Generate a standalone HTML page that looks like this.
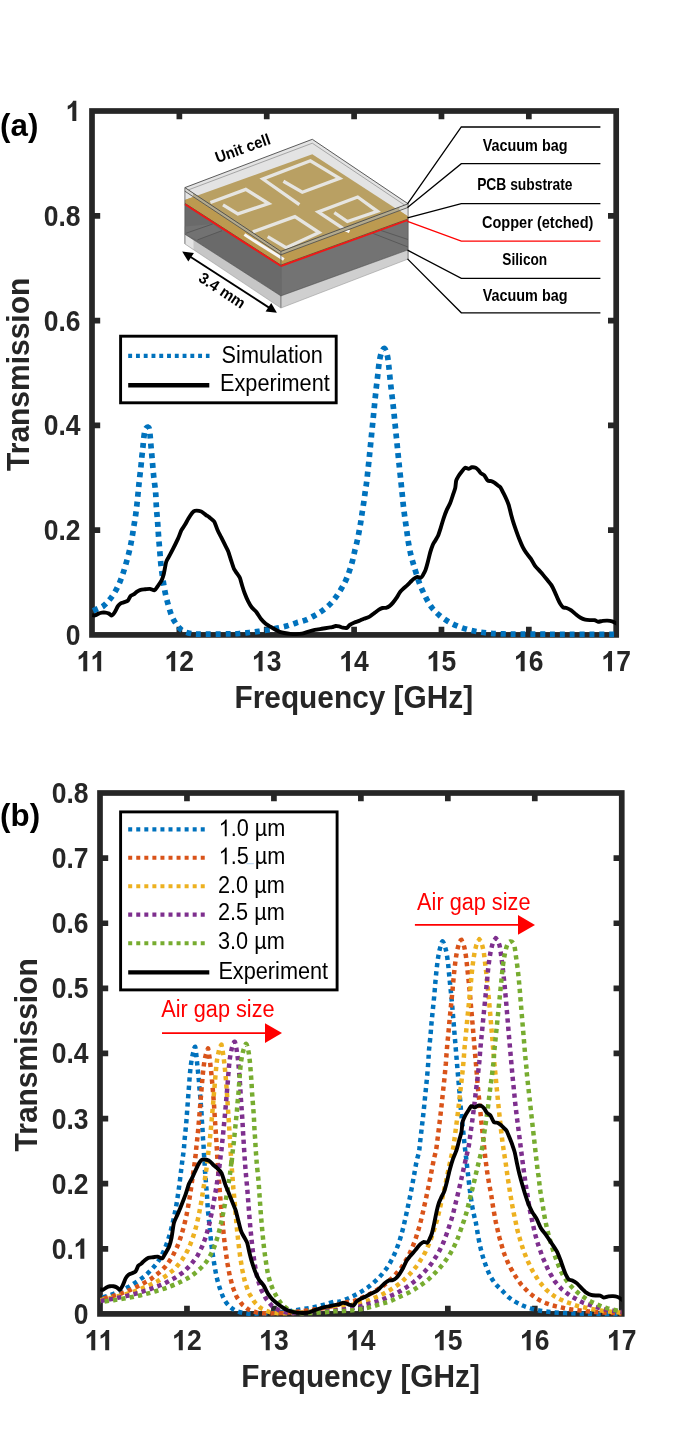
<!DOCTYPE html>
<html><head><meta charset="utf-8"><title>Transmission</title>
<style>html,body{margin:0;padding:0;background:#fff;}body{width:685px;height:1452px;position:relative;overflow:hidden;font-family:"Liberation Sans",sans-serif;}</style>
</head><body>
<svg width="685" height="1452" viewBox="0 0 685 1452" style="display:block;position:absolute;left:0;top:0;will-change:transform">
<rect width="685" height="1452" fill="#fff"/>
<defs>
<clipPath id="ca"><rect x="92.00" y="108.00" width="524.20" height="530.10"/></clipPath>
<clipPath id="cb"><rect x="100.00" y="790.00" width="521.75" height="527.10"/></clipPath>
</defs>
<g stroke="#262626" stroke-width="5.70" fill="none" stroke-linecap="butt">
<path d="M179.37,634.90 v-8.20 M179.37,111.00 v8.20"/>
<path d="M266.73,634.90 v-8.20 M266.73,111.00 v8.20"/>
<path d="M354.10,634.90 v-8.20 M354.10,111.00 v8.20"/>
<path d="M441.47,634.90 v-8.20 M441.47,111.00 v8.20"/>
<path d="M528.83,634.90 v-8.20 M528.83,111.00 v8.20"/>
<path d="M92.00,530.12 h8.20 M616.20,530.12 h-8.20"/>
<path d="M92.00,425.34 h8.20 M616.20,425.34 h-8.20"/>
<path d="M92.00,320.56 h8.20 M616.20,320.56 h-8.20"/>
<path d="M92.00,215.78 h8.20 M616.20,215.78 h-8.20"/>
<rect x="92.00" y="111.00" width="524.20" height="523.90"/>
</g>
<g clip-path="url(#ca)" fill="none" stroke-linejoin="round">
<path id="simA" d="M92.20,611.27 C93.06,610.88 95.51,609.79 97.34,608.93 C99.17,608.08 101.24,607.57 103.18,606.13 C105.13,604.69 107.08,602.63 109.02,600.29 C110.97,597.96 113.11,595.04 114.86,592.12 C116.61,589.20 118.17,585.89 119.53,582.77 C120.90,579.66 121.87,576.93 123.04,573.43 C124.20,569.93 125.45,565.64 126.54,561.75 C127.63,557.86 128.68,553.97 129.58,550.07 C130.47,546.18 131.21,542.29 131.91,538.39 C132.61,534.50 133.16,530.61 133.78,526.72 C134.40,522.82 135.10,518.93 135.65,515.04 C136.19,511.14 136.62,507.25 137.05,503.36 C137.48,499.46 137.83,495.57 138.22,491.68 C138.61,487.79 138.94,484.09 139.39,480.00 C139.83,475.91 140.47,470.95 140.88,467.15 C141.28,463.36 141.48,460.44 141.81,457.23 C142.14,454.01 142.53,451.09 142.86,447.88 C143.19,444.67 143.46,440.72 143.80,437.96 C144.13,435.19 144.42,432.95 144.85,431.30 C145.27,429.64 145.84,428.73 146.36,428.03 C146.89,427.33 147.49,426.94 148.00,427.09 C148.51,427.25 149.03,427.35 149.40,428.96 C149.77,430.58 149.95,433.83 150.22,436.79 C150.49,439.75 150.74,443.41 151.04,446.72 C151.33,450.02 151.68,453.33 151.97,456.64 C152.26,459.95 152.50,463.26 152.79,466.57 C153.08,469.88 153.35,473.09 153.72,476.50 C154.10,479.90 154.70,484.09 155.04,487.01 C155.37,489.93 155.50,490.51 155.74,494.01 C155.97,497.52 156.13,503.36 156.44,508.03 C156.75,512.70 157.26,517.37 157.61,522.04 C157.96,526.72 158.19,531.39 158.54,536.06 C158.89,540.73 159.32,545.40 159.71,550.07 C160.10,554.74 160.37,559.42 160.88,564.09 C161.38,568.76 162.04,573.43 162.74,578.10 C163.45,582.77 164.11,587.45 165.08,592.12 C166.05,596.79 167.42,602.04 168.58,606.13 C169.75,610.22 170.73,613.53 172.09,616.64 C173.45,619.76 175.01,622.48 176.76,624.82 C178.51,627.15 180.26,629.22 182.60,630.66 C184.93,632.10 187.85,632.88 190.77,633.46 C193.69,634.04 193.89,634.08 200.12,634.16 C206.35,634.24 221.50,634.04 228.15,633.93 C234.79,633.81 236.47,633.69 240.00,633.46 C243.53,633.23 246.23,632.88 249.34,632.53 C252.46,632.18 255.57,631.79 258.69,631.36 C261.80,630.93 264.91,630.50 268.03,629.96 C271.14,629.41 274.26,628.75 277.37,628.09 C280.49,627.43 283.60,626.84 286.72,625.99 C289.83,625.13 292.94,623.92 296.06,622.95 C299.17,621.98 302.29,621.39 305.40,620.15 C308.52,618.90 311.82,617.11 314.74,615.47 C317.66,613.84 320.19,612.40 322.92,610.34 C325.64,608.27 328.76,605.55 331.09,603.09 C333.43,600.64 335.10,598.23 336.93,595.62 C338.76,593.01 340.52,590.17 342.07,587.45 C343.63,584.72 344.99,582.19 346.28,579.27 C347.56,576.35 348.73,573.04 349.78,569.93 C350.83,566.81 351.73,563.89 352.58,560.58 C353.44,557.27 354.14,553.38 354.92,550.07 C355.70,546.76 356.55,543.84 357.26,540.73 C357.96,537.62 358.54,534.50 359.12,531.39 C359.71,528.27 360.25,525.16 360.76,522.04 C361.27,518.93 361.65,516.01 362.16,512.70 C362.67,509.39 363.29,505.69 363.80,502.19 C364.30,498.69 364.73,494.99 365.20,491.68 C365.66,488.37 365.96,487.59 366.60,482.34 C367.23,477.08 368.37,466.18 369.01,460.15 C369.64,454.11 369.94,450.80 370.41,446.13 C370.88,441.46 371.34,436.79 371.81,432.12 C372.28,427.45 372.74,422.77 373.21,418.10 C373.68,413.43 374.15,408.76 374.61,404.09 C375.08,399.42 375.51,394.74 376.01,390.07 C376.52,385.40 377.10,380.73 377.65,376.06 C378.19,371.39 378.66,365.94 379.28,362.04 C379.91,358.15 380.53,354.96 381.39,352.70 C382.24,350.44 383.45,348.11 384.42,348.50 C385.40,348.89 386.49,352.00 387.23,355.04 C387.97,358.07 388.36,362.43 388.86,366.72 C389.37,371.00 389.76,376.06 390.26,380.73 C390.77,385.40 391.35,390.07 391.90,394.74 C392.44,399.42 393.03,404.09 393.53,408.76 C394.04,413.43 394.47,418.10 394.93,422.77 C395.40,427.45 395.87,432.12 396.34,436.79 C396.80,441.46 397.27,446.13 397.74,450.80 C398.20,455.47 398.59,459.56 399.14,464.82 C399.69,470.07 400.51,477.47 401.02,482.34 C401.53,487.20 401.80,490.12 402.19,494.01 C402.58,497.91 402.89,501.61 403.36,505.69 C403.82,509.78 404.41,514.26 404.99,518.54 C405.58,522.82 406.28,527.30 406.86,531.39 C407.45,535.47 407.83,539.17 408.50,543.07 C409.16,546.96 410.01,551.24 410.83,554.74 C411.65,558.25 412.51,560.97 413.40,564.09 C414.30,567.20 415.15,570.12 416.20,573.43 C417.26,576.74 418.54,580.83 419.71,583.94 C420.88,587.06 421.85,589.20 423.21,592.12 C424.57,595.04 426.33,598.73 427.88,601.46 C429.44,604.18 430.61,606.13 432.55,608.47 C434.50,610.80 437.03,613.33 439.56,615.47 C442.09,617.62 444.82,619.56 447.74,621.31 C450.66,623.07 453.77,624.62 457.08,625.99 C460.39,627.35 464.09,628.52 467.59,629.49 C471.09,630.46 474.40,631.20 478.10,631.82 C481.80,632.45 485.50,632.88 489.78,633.23 C494.06,633.58 498.73,633.77 503.80,633.93 C508.86,634.08 514.11,634.12 520.15,634.16 C526.18,634.20 533.36,634.14 540.00,634.16 C546.64,634.18 550.00,634.26 560.00,634.30 C570.00,634.34 590.50,634.38 600.00,634.40 C609.50,634.42 614.17,634.40 617.00,634.40" stroke="#0072BD" stroke-width="5.7" stroke-dasharray="5.000 4.834" stroke-dashoffset="8.622"/>
<path d="M92.20,615.01 C92.53,615.06 94.27,615.64 95.01,615.47 C95.74,615.31 97.69,613.93 98.51,613.61 C99.33,613.28 101.20,612.78 102.01,612.67 C102.83,612.56 104.70,612.56 105.52,612.67 C106.34,612.78 108.29,613.28 109.02,613.61 C109.76,613.93 111.14,615.67 111.82,615.47 C112.51,615.28 114.15,613.06 114.86,611.97 C115.57,610.88 117.22,607.14 117.90,606.13 C118.58,605.12 119.96,603.79 120.70,603.33 C121.44,602.87 123.39,602.46 124.20,602.16 C125.02,601.86 126.97,601.47 127.71,600.76 C128.44,600.05 129.83,596.82 130.51,596.09 C131.19,595.35 132.78,594.97 133.55,594.45 C134.31,593.93 136.23,592.19 137.05,591.65 C137.87,591.10 139.60,590.05 140.55,589.78 C141.51,589.51 144.14,589.42 145.23,589.31 C146.32,589.20 148.81,588.74 149.90,588.85 C150.99,588.96 153.67,590.55 154.57,590.25 C155.47,589.95 156.79,587.42 157.61,586.28 C158.42,585.13 160.84,581.94 161.58,580.44 C162.31,578.94 163.37,575.61 163.91,573.43 C164.46,571.25 165.57,563.88 166.25,561.75 C166.93,559.63 168.93,556.76 169.75,555.21 C170.57,553.66 172.30,550.35 173.26,548.44 C174.21,546.53 176.97,540.99 177.93,538.86 C178.88,536.74 180.61,531.85 181.43,530.22 C182.25,528.58 184.12,526.21 184.93,524.85 C185.75,523.48 187.62,519.90 188.44,518.54 C189.26,517.18 191.21,514.07 191.94,513.17 C192.68,512.27 193.65,511.02 194.74,510.83 C195.83,510.64 199.98,511.04 201.28,511.53 C202.59,512.02 205.00,514.36 205.96,515.04 C206.91,515.72 208.51,516.61 209.46,517.37 C210.41,518.14 213.18,520.08 214.13,521.58 C215.09,523.08 216.82,528.39 217.64,530.22 C218.45,532.04 220.32,535.59 221.14,537.23 C221.96,538.86 223.82,542.60 224.64,544.23 C225.46,545.87 227.38,549.33 228.15,551.24 C228.91,553.15 230.50,558.54 231.18,560.58 C231.86,562.63 233.11,566.99 233.99,568.76 C234.86,570.53 237.96,574.68 238.66,575.77 C239.36,576.86 239.57,576.88 240.00,578.10 C240.43,579.33 241.79,584.51 242.34,586.28 C242.88,588.05 243.99,591.51 244.67,593.28 C245.35,595.06 247.36,599.82 248.18,601.46 C248.99,603.09 250.73,606.07 251.68,607.30 C252.63,608.53 255.26,610.61 256.35,611.97 C257.44,613.33 259.93,617.62 261.02,618.98 C262.11,620.34 264.60,622.75 265.69,623.65 C266.78,624.55 269.27,626.00 270.36,626.69 C271.45,627.37 273.95,628.89 275.04,629.49 C276.13,630.09 278.62,631.42 279.71,631.82 C280.80,632.23 283.15,632.75 284.38,632.99 C285.61,633.24 288.86,633.79 290.22,633.93 C291.58,634.06 294.70,634.19 296.06,634.16 C297.42,634.13 300.54,633.97 301.90,633.69 C303.26,633.42 306.24,632.26 307.74,631.82 C309.24,631.39 313.11,630.31 314.74,629.96 C316.38,629.60 320.12,629.06 321.75,628.79 C323.39,628.52 327.53,627.81 328.76,627.62 C329.99,627.43 331.45,627.34 332.26,627.15 C333.08,626.96 334.95,626.07 335.77,625.99 C336.58,625.90 338.45,626.26 339.27,626.45 C340.09,626.64 341.87,627.46 342.77,627.62 C343.67,627.78 346.16,628.18 346.98,627.85 C347.80,627.53 348.91,625.44 349.78,624.82 C350.65,624.19 353.36,622.95 354.45,622.48 C355.54,622.02 358.03,621.28 359.12,620.85 C360.21,620.41 362.57,619.24 363.80,618.74 C365.02,618.25 368.41,617.30 369.64,616.64 C370.86,615.99 373.22,613.96 374.31,613.14 C375.40,612.32 378.02,610.23 378.98,609.64 C379.93,609.04 381.66,608.22 382.48,608.00 C383.30,607.78 385.17,607.98 385.99,607.77 C386.80,607.55 388.67,606.73 389.49,606.13 C390.31,605.53 392.18,603.58 392.99,602.63 C393.81,601.67 395.68,599.18 396.50,597.96 C397.31,596.73 399.20,593.21 400.00,592.12 C400.80,591.03 402.56,589.38 403.36,588.61 C404.16,587.85 406.04,586.34 406.86,585.58 C407.68,584.81 409.55,582.86 410.36,582.07 C411.18,581.28 413.05,579.40 413.87,578.80 C414.69,578.20 416.55,577.07 417.37,576.93 C418.19,576.80 420.19,577.91 420.88,577.64 C421.56,577.36 422.67,575.50 423.21,574.60 C423.76,573.70 425.00,571.43 425.55,569.93 C426.09,568.43 427.34,563.80 427.88,561.75 C428.43,559.71 429.67,554.32 430.22,552.41 C430.76,550.50 432.01,546.71 432.55,545.40 C433.10,544.09 434.26,542.29 434.89,541.20 C435.52,540.11 437.25,537.61 437.93,536.06 C438.61,534.51 440.08,529.93 440.73,527.88 C441.38,525.84 442.85,520.58 443.53,518.54 C444.21,516.50 445.81,512.14 446.57,510.36 C447.33,508.59 449.34,505.13 450.07,503.36 C450.81,501.59 452.28,496.95 452.88,495.18 C453.48,493.41 454.82,489.88 455.21,488.18 C455.60,486.47 455.82,482.01 456.20,480.58 C456.59,479.15 457.86,477.00 458.54,475.91 C459.22,474.82 461.28,472.19 462.04,471.24 C462.81,470.29 464.32,468.01 465.08,467.74 C465.84,467.46 467.79,468.96 468.58,468.91 C469.37,468.85 471.04,467.41 471.85,467.27 C472.67,467.13 474.83,467.41 475.59,467.74 C476.35,468.06 477.79,469.45 478.39,470.07 C478.99,470.70 480.05,472.51 480.73,473.11 C481.41,473.71 483.42,474.34 484.23,475.21 C485.05,476.08 486.92,479.90 487.74,480.58 C488.55,481.27 490.42,480.78 491.24,481.05 C492.06,481.32 493.93,482.37 494.74,482.92 C495.56,483.46 497.57,485.18 498.25,485.72 C498.93,486.27 499.96,486.69 500.58,487.59 C501.21,488.49 502.94,492.07 503.62,493.43 C504.30,494.79 505.82,497.91 506.42,499.27 C507.02,500.63 508.21,503.34 508.76,505.11 C509.30,506.88 510.55,512.41 511.09,514.45 C511.64,516.50 512.83,520.72 513.43,522.63 C514.03,524.54 515.55,528.90 516.23,530.80 C516.91,532.71 518.51,537.07 519.27,538.98 C520.03,540.89 521.96,545.52 522.77,547.15 C523.59,548.79 525.32,551.63 526.28,552.99 C527.23,554.36 529.93,557.32 530.95,558.83 C531.97,560.34 533.88,564.39 535.04,565.96 C536.19,567.52 539.51,570.71 540.88,572.26 C542.24,573.82 545.49,577.77 546.72,579.27 C547.94,580.77 550.43,583.61 551.39,585.11 C552.34,586.61 554.13,590.48 554.89,592.12 C555.65,593.75 557.30,597.76 557.93,599.12 C558.55,600.49 559.66,602.84 560.26,603.80 C560.86,604.75 562.33,606.81 563.07,607.30 C563.80,607.79 565.62,607.65 566.57,608.00 C567.52,608.35 570.15,609.60 571.24,610.34 C572.33,611.07 574.82,613.43 575.91,614.31 C577.00,615.18 579.49,617.18 580.58,617.81 C581.67,618.44 584.17,619.41 585.26,619.68 C586.35,619.95 588.84,620.09 589.93,620.15 C591.02,620.20 593.64,619.96 594.60,620.15 C595.55,620.34 597.15,621.70 598.10,621.78 C599.06,621.86 601.68,620.98 602.77,620.85 C603.86,620.71 606.36,620.56 607.45,620.61 C608.54,620.67 611.16,621.04 612.12,621.31 C613.07,621.59 614.94,622.59 615.62,622.95 C616.30,623.30 617.68,624.19 617.96,624.35" stroke="#000" stroke-width="3.9" stroke-linecap="butt"/>
</g>
<g font-family="Liberation Sans, sans-serif" font-weight="bold" font-size="26.5" fill="#262626">
<g transform="translate(0,671.30) scale(1,1.085) translate(0,-671.30)"><path transform="translate(76.70,671.30) scale(26.500,-26.500)" d="M0.398,0 L0.248,0 L0.248,0.505 C0.200,0.460 0.142,0.426 0.074,0.403 L0.074,0.527 C0.110,0.538 0.149,0.560 0.191,0.592 C0.233,0.624 0.262,0.660 0.278,0.703 L0.398,0.703 Z" fill="#262626" stroke="none"/><path transform="translate(90.64,671.30) scale(26.500,-26.500)" d="M0.398,0 L0.248,0 L0.248,0.505 C0.200,0.460 0.142,0.426 0.074,0.403 L0.074,0.527 C0.110,0.538 0.149,0.560 0.191,0.592 C0.233,0.624 0.262,0.660 0.278,0.703 L0.398,0.703 Z" fill="#262626" stroke="none"/></g>
<g transform="translate(0,671.30) scale(1,1.085) translate(0,-671.30)"><path transform="translate(164.63,671.30) scale(26.500,-26.500)" d="M0.398,0 L0.248,0 L0.248,0.505 C0.200,0.460 0.142,0.426 0.074,0.403 L0.074,0.527 C0.110,0.538 0.149,0.560 0.191,0.592 C0.233,0.624 0.262,0.660 0.278,0.703 L0.398,0.703 Z" fill="#262626" stroke="none"/><text x="179.37" y="671.30">2</text></g>
<g transform="translate(0,671.30) scale(1,1.085) translate(0,-671.30)"><path transform="translate(252.00,671.30) scale(26.500,-26.500)" d="M0.398,0 L0.248,0 L0.248,0.505 C0.200,0.460 0.142,0.426 0.074,0.403 L0.074,0.527 C0.110,0.538 0.149,0.560 0.191,0.592 C0.233,0.624 0.262,0.660 0.278,0.703 L0.398,0.703 Z" fill="#262626" stroke="none"/><text x="266.73" y="671.30">3</text></g>
<g transform="translate(0,671.30) scale(1,1.085) translate(0,-671.30)"><path transform="translate(339.37,671.30) scale(26.500,-26.500)" d="M0.398,0 L0.248,0 L0.248,0.505 C0.200,0.460 0.142,0.426 0.074,0.403 L0.074,0.527 C0.110,0.538 0.149,0.560 0.191,0.592 C0.233,0.624 0.262,0.660 0.278,0.703 L0.398,0.703 Z" fill="#262626" stroke="none"/><text x="354.10" y="671.30">4</text></g>
<g transform="translate(0,671.30) scale(1,1.085) translate(0,-671.30)"><path transform="translate(426.73,671.30) scale(26.500,-26.500)" d="M0.398,0 L0.248,0 L0.248,0.505 C0.200,0.460 0.142,0.426 0.074,0.403 L0.074,0.527 C0.110,0.538 0.149,0.560 0.191,0.592 C0.233,0.624 0.262,0.660 0.278,0.703 L0.398,0.703 Z" fill="#262626" stroke="none"/><text x="441.47" y="671.30">5</text></g>
<g transform="translate(0,671.30) scale(1,1.085) translate(0,-671.30)"><path transform="translate(514.10,671.30) scale(26.500,-26.500)" d="M0.398,0 L0.248,0 L0.248,0.505 C0.200,0.460 0.142,0.426 0.074,0.403 L0.074,0.527 C0.110,0.538 0.149,0.560 0.191,0.592 C0.233,0.624 0.262,0.660 0.278,0.703 L0.398,0.703 Z" fill="#262626" stroke="none"/><text x="528.83" y="671.30">6</text></g>
<g transform="translate(0,671.30) scale(1,1.085) translate(0,-671.30)"><path transform="translate(601.47,671.30) scale(26.500,-26.500)" d="M0.398,0 L0.248,0 L0.248,0.505 C0.200,0.460 0.142,0.426 0.074,0.403 L0.074,0.527 C0.110,0.538 0.149,0.560 0.191,0.592 C0.233,0.624 0.262,0.660 0.278,0.703 L0.398,0.703 Z" fill="#262626" stroke="none"/><text x="616.20" y="671.30">7</text></g>
<g transform="translate(0,644.90) scale(1,1.085) translate(0,-644.90)"><text x="65.77" y="644.90">0</text></g>
<g transform="translate(0,540.12) scale(1,1.085) translate(0,-540.12)"><text x="43.66" y="540.12">0</text><text x="58.40" y="540.12">.</text><text x="65.77" y="540.12">2</text></g>
<g transform="translate(0,435.34) scale(1,1.085) translate(0,-435.34)"><text x="43.66" y="435.34">0</text><text x="58.40" y="435.34">.</text><text x="65.77" y="435.34">4</text></g>
<g transform="translate(0,330.56) scale(1,1.085) translate(0,-330.56)"><text x="43.66" y="330.56">0</text><text x="58.40" y="330.56">.</text><text x="65.77" y="330.56">6</text></g>
<g transform="translate(0,225.78) scale(1,1.085) translate(0,-225.78)"><text x="43.66" y="225.78">0</text><text x="58.40" y="225.78">.</text><text x="65.77" y="225.78">8</text></g>
<g transform="translate(0,121.00) scale(1,1.085) translate(0,-121.00)"><path transform="translate(65.77,121.00) scale(26.500,-26.500)" d="M0.398,0 L0.248,0 L0.248,0.505 C0.200,0.460 0.142,0.426 0.074,0.403 L0.074,0.527 C0.110,0.538 0.149,0.560 0.191,0.592 C0.233,0.624 0.262,0.660 0.278,0.703 L0.398,0.703 Z" fill="#262626" stroke="none"/></g>
</g>
<g font-family="Liberation Sans, sans-serif" font-weight="bold" font-size="29.85" fill="#262626">
<text transform="translate(353.80,707.70) scale(1,1.075)" text-anchor="middle">Frequency [GHz]</text>
<text transform="translate(28.60,374.35) rotate(-90) scale(1.004,1.05)" text-anchor="middle">Transmission</text>
</g>
<text x="0.1" y="135.6" font-family="Liberation Sans, sans-serif" font-weight="bold" font-size="31.3" fill="#000">(a)</text>
<rect x="120.6" y="336.2" width="215.6" height="66.6" fill="#fff" stroke="#000" stroke-width="2.9"/>
<path d="M128.2,355.8 H209.5" stroke="#0072BD" stroke-width="4.2" stroke-dasharray="3.9 3.87" fill="none"/>
<path d="M128.2,385.3 H209.3" stroke="#000" stroke-width="4.4" fill="none"/>
<g font-family="Liberation Sans, sans-serif" font-size="21.7" fill="#000">
<text transform="translate(221.6,362.5) scale(1,1.07)">Simulation</text>
<text transform="translate(220.0,391.4) scale(1,1.07)">Experiment</text>
</g>
<g stroke="#262626" stroke-width="5.70" fill="none" stroke-linecap="butt">
<path d="M186.96,1313.90 v-8.20 M186.96,793.00 v8.20"/>
<path d="M273.92,1313.90 v-8.20 M273.92,793.00 v8.20"/>
<path d="M360.88,1313.90 v-8.20 M360.88,793.00 v8.20"/>
<path d="M447.83,1313.90 v-8.20 M447.83,793.00 v8.20"/>
<path d="M534.79,1313.90 v-8.20 M534.79,793.00 v8.20"/>
<path d="M100.00,1248.79 h8.20 M621.75,1248.79 h-8.20"/>
<path d="M100.00,1183.68 h8.20 M621.75,1183.68 h-8.20"/>
<path d="M100.00,1118.56 h8.20 M621.75,1118.56 h-8.20"/>
<path d="M100.00,1053.45 h8.20 M621.75,1053.45 h-8.20"/>
<path d="M100.00,988.34 h8.20 M621.75,988.34 h-8.20"/>
<path d="M100.00,923.23 h8.20 M621.75,923.23 h-8.20"/>
<path d="M100.00,858.11 h8.20 M621.75,858.11 h-8.20"/>
<rect x="100.00" y="793.00" width="521.75" height="520.90"/>
</g>
<g clip-path="url(#cb)" fill="none" stroke-linejoin="round">
<path id="simB0" d="M100.14,1298.28 C101.62,1297.81 105.98,1296.53 109.01,1295.47 C112.05,1294.42 115.24,1293.33 118.36,1291.97 C121.47,1290.61 124.59,1289.05 127.70,1287.30 C130.82,1285.55 134.12,1283.41 137.04,1281.46 C139.96,1279.51 142.69,1277.76 145.22,1275.62 C147.75,1273.48 150.09,1270.95 152.23,1268.61 C154.37,1266.28 156.24,1264.33 158.07,1261.61 C159.90,1258.88 161.65,1255.57 163.20,1252.26 C164.76,1248.95 166.12,1245.45 167.41,1241.75 C168.69,1238.05 169.86,1233.97 170.91,1230.07 C171.96,1226.18 172.86,1222.29 173.72,1218.39 C174.57,1214.50 175.35,1210.61 176.05,1206.72 C176.75,1202.82 177.34,1198.93 177.92,1195.04 C178.50,1191.14 179.05,1187.25 179.55,1183.36 C180.06,1179.46 180.53,1175.18 180.96,1171.68 C181.38,1168.18 181.80,1164.83 182.12,1162.34 C182.45,1159.84 182.59,1159.01 182.89,1156.72 C183.19,1154.42 183.64,1151.27 183.91,1148.54 C184.18,1145.82 184.29,1143.09 184.53,1140.36 C184.76,1137.64 185.07,1134.91 185.34,1132.19 C185.62,1129.46 185.92,1126.74 186.16,1124.01 C186.40,1121.29 186.57,1118.56 186.77,1115.84 C186.98,1113.11 187.18,1110.39 187.39,1107.66 C187.59,1104.94 187.80,1102.21 188.00,1099.49 C188.20,1096.76 188.41,1094.04 188.61,1091.31 C188.82,1088.59 189.02,1085.86 189.23,1083.14 C189.43,1080.41 189.60,1077.69 189.84,1074.96 C190.08,1072.24 190.32,1069.51 190.66,1066.79 C191.00,1064.06 191.41,1061.17 191.88,1058.61 C192.36,1056.06 192.97,1053.44 193.52,1051.46 C194.06,1049.48 194.68,1046.08 195.15,1046.76 C195.63,1047.44 196.04,1052.72 196.38,1055.55 C196.72,1058.37 196.92,1061.00 197.20,1063.72 C197.47,1066.45 197.74,1069.17 198.01,1071.90 C198.29,1074.62 198.59,1077.35 198.83,1080.07 C199.07,1082.80 199.21,1085.52 199.45,1088.25 C199.68,1090.97 200.02,1093.70 200.26,1096.42 C200.50,1099.15 200.67,1101.87 200.88,1104.60 C201.08,1107.32 201.32,1110.05 201.49,1112.77 C201.66,1115.50 201.73,1118.22 201.90,1120.95 C202.07,1123.67 202.34,1126.40 202.51,1129.12 C202.68,1131.85 202.75,1134.57 202.92,1137.30 C203.09,1140.02 203.36,1142.75 203.53,1145.47 C203.70,1148.20 203.77,1150.92 203.94,1153.65 C204.11,1156.37 204.41,1159.40 204.55,1161.82 C204.69,1164.25 204.67,1166.14 204.78,1168.18 C204.90,1170.21 205.01,1171.09 205.25,1174.01 C205.48,1176.93 205.87,1181.80 206.18,1185.69 C206.49,1189.59 206.84,1193.48 207.12,1197.37 C207.39,1201.27 207.51,1205.16 207.82,1209.05 C208.13,1212.94 208.60,1216.84 208.99,1220.73 C209.37,1224.62 209.76,1228.52 210.15,1232.41 C210.54,1236.30 210.85,1240.19 211.32,1244.09 C211.79,1247.98 212.37,1251.87 212.96,1255.77 C213.54,1259.66 214.12,1263.55 214.82,1267.45 C215.53,1271.34 216.19,1275.23 217.16,1279.12 C218.13,1283.02 219.42,1287.30 220.66,1290.80 C221.91,1294.31 223.00,1297.42 224.64,1300.15 C226.27,1302.87 228.33,1305.28 230.47,1307.15 C232.62,1309.02 234.76,1310.31 237.48,1311.36 C240.21,1312.41 243.79,1313.07 246.82,1313.46 C249.86,1313.85 251.49,1313.77 255.69,1313.69 C259.90,1313.62 266.59,1313.38 272.04,1312.99 C277.49,1312.60 283.72,1311.94 288.39,1311.36 C293.07,1310.77 296.18,1310.11 300.07,1309.49 C303.97,1308.87 307.86,1308.40 311.75,1307.62 C315.64,1306.84 319.54,1305.83 323.43,1304.82 C327.32,1303.81 332.35,1302.09 335.11,1301.55 C337.87,1301.00 337.63,1302.17 340.00,1301.55 C342.37,1300.92 346.23,1299.21 349.34,1297.81 C352.46,1296.41 355.57,1294.89 358.69,1293.14 C361.80,1291.39 364.91,1289.64 368.03,1287.30 C371.14,1284.96 374.45,1282.04 377.37,1279.12 C380.29,1276.20 383.02,1273.28 385.55,1269.78 C388.08,1266.28 390.41,1262.38 392.55,1258.10 C394.70,1253.82 396.72,1248.76 398.39,1244.09 C400.07,1239.42 401.35,1234.74 402.60,1230.07 C403.84,1225.40 404.82,1220.73 405.87,1216.06 C406.92,1211.39 407.93,1206.72 408.91,1202.04 C409.88,1197.37 410.81,1192.70 411.71,1188.03 C412.60,1183.36 413.46,1178.49 414.28,1174.01 C415.09,1169.54 415.83,1164.79 416.61,1161.17 C417.39,1157.54 418.40,1155.11 418.95,1152.26 C419.49,1149.42 419.42,1148.18 419.88,1144.09 C420.35,1140.00 421.13,1133.19 421.75,1127.74 C422.37,1122.29 423.04,1116.84 423.62,1111.39 C424.20,1105.94 424.71,1100.49 425.26,1095.04 C425.80,1089.59 426.38,1084.14 426.89,1078.69 C427.40,1073.24 427.95,1066.98 428.29,1062.34 C428.64,1057.69 428.62,1055.06 428.96,1050.80 C429.31,1046.55 429.94,1041.46 430.36,1036.79 C430.79,1032.12 431.10,1027.45 431.53,1022.77 C431.96,1018.10 432.47,1013.43 432.93,1008.76 C433.40,1004.09 433.91,999.42 434.34,994.74 C434.76,990.07 435.08,985.40 435.50,980.73 C435.93,976.06 436.40,971.00 436.91,966.72 C437.41,962.43 437.96,958.35 438.54,955.04 C439.12,951.73 439.71,949.12 440.41,946.86 C441.11,944.60 441.81,940.91 442.74,941.49 C443.68,942.07 445.16,946.94 446.01,950.36 C446.87,953.79 447.38,958.15 447.88,962.04 C448.39,965.94 448.62,969.44 449.05,973.72 C449.48,978.00 449.99,983.07 450.45,987.74 C450.92,992.41 451.43,997.08 451.85,1001.75 C452.28,1006.42 452.63,1011.09 453.02,1015.77 C453.41,1020.44 453.80,1025.11 454.19,1029.78 C454.58,1034.45 454.97,1039.12 455.36,1043.80 C455.75,1048.47 456.14,1053.14 456.53,1057.81 C456.91,1062.48 457.26,1066.79 457.69,1071.82 C458.13,1076.86 458.69,1082.99 459.12,1088.03 C459.56,1093.07 459.90,1097.37 460.29,1102.04 C460.68,1106.72 460.99,1111.39 461.46,1116.06 C461.93,1120.73 462.59,1125.40 463.09,1130.07 C463.60,1134.74 463.99,1139.42 464.50,1144.09 C465.00,1148.76 465.59,1153.43 466.13,1158.10 C466.68,1162.77 467.18,1167.06 467.77,1172.12 C468.35,1177.18 468.93,1183.02 469.64,1188.47 C470.34,1193.92 471.19,1200.15 471.97,1204.82 C472.75,1209.49 473.64,1213.45 474.31,1216.50 C474.97,1219.54 475.28,1219.64 475.94,1223.07 C476.60,1226.50 477.38,1232.41 478.28,1237.08 C479.17,1241.75 480.22,1246.81 481.31,1251.09 C482.40,1255.38 483.45,1258.88 484.82,1262.77 C486.18,1266.67 487.74,1270.95 489.49,1274.45 C491.24,1277.96 493.38,1281.27 495.33,1283.80 C497.28,1286.33 498.86,1287.30 501.20,1289.64 C503.55,1291.97 506.46,1295.47 509.38,1297.81 C512.30,1300.15 515.22,1301.90 518.72,1303.65 C522.23,1305.40 526.12,1307.04 530.40,1308.32 C534.68,1309.61 538.97,1310.58 544.42,1311.36 C549.87,1312.14 556.09,1312.60 563.10,1312.99 C570.11,1313.38 576.73,1313.50 586.46,1313.69 C596.19,1313.89 615.66,1314.08 621.50,1314.16" stroke="#0072BD" stroke-width="4.5" stroke-dasharray="4.300 4.065" stroke-dashoffset="5.533"/>
<path id="simB1" d="M100.00,1299.36 L100.75,1299.21 L101.49,1299.02 L102.24,1298.83 L102.98,1298.64 L103.73,1298.45 L104.47,1298.26 L105.22,1298.08 L105.96,1297.89 L106.71,1297.70 L107.45,1297.51 L108.20,1297.32 L108.94,1297.14 L109.69,1296.95 L110.43,1296.75 L111.18,1296.52 L111.93,1296.30 L112.67,1296.08 L113.42,1295.85 L114.16,1295.63 L114.91,1295.40 L115.65,1295.18 L116.40,1294.96 L117.14,1294.73 L117.89,1294.51 L118.63,1294.28 L119.38,1294.06 L120.12,1293.83 L120.87,1293.60 L121.62,1293.31 L122.36,1293.02 L123.11,1292.72 L123.85,1292.43 L124.60,1292.14 L125.34,1291.85 L126.09,1291.55 L126.83,1291.26 L127.58,1290.97 L128.32,1290.67 L129.07,1290.38 L129.81,1290.09 L130.56,1289.79 L131.30,1289.49 L132.05,1289.13 L132.80,1288.76 L133.54,1288.39 L134.29,1288.02 L135.03,1287.65 L135.78,1287.28 L136.52,1286.91 L137.27,1286.54 L138.01,1286.16 L138.76,1285.79 L139.50,1285.42 L140.25,1285.05 L140.99,1284.68 L141.74,1284.30 L142.49,1283.89 L143.23,1283.46 L143.98,1283.02 L144.72,1282.59 L145.47,1282.16 L146.21,1281.73 L146.96,1281.30 L147.70,1280.87 L148.45,1280.44 L149.19,1280.01 L149.94,1279.58 L150.68,1279.14 L151.43,1278.70 L152.17,1278.11 L152.92,1277.51 L153.67,1276.92 L154.41,1276.32 L155.16,1275.72 L155.90,1275.13 L156.65,1274.53 L157.39,1273.93 L158.14,1273.34 L158.88,1272.74 L159.63,1272.10 L160.37,1271.40 L161.12,1270.68 L161.86,1269.96 L162.61,1269.24 L163.36,1268.52 L164.10,1267.79 L164.85,1267.07 L165.59,1266.35 L166.34,1265.48 L167.08,1264.46 L167.83,1263.37 L168.57,1262.29 L169.32,1261.20 L170.06,1260.12 L170.81,1259.03 L171.55,1257.95 L172.30,1256.64 L173.04,1255.23 L173.79,1253.75 L174.54,1252.27 L175.28,1250.78 L176.03,1249.30 L176.77,1247.71 L177.52,1245.82 L178.26,1243.94 L179.01,1241.91 L179.75,1239.87 L180.50,1237.84 L181.24,1235.43 L181.99,1232.99 L182.73,1230.44 L183.48,1227.82 L184.23,1224.93 L184.97,1221.91 L185.72,1218.72 L186.46,1215.38 L187.21,1211.50 L187.95,1207.58 L188.70,1203.38 L189.44,1198.86 L190.19,1194.24 L190.93,1189.06 L191.68,1183.75 L192.42,1178.53 L193.17,1173.38 L193.92,1168.24 L194.66,1162.87 L195.41,1157.10 L196.15,1149.29 L196.90,1142.22 L197.64,1135.56 L198.39,1127.26 L199.13,1118.47 L199.88,1109.46 L200.62,1100.44 L201.37,1091.16 L202.11,1082.01 L202.86,1073.85 L203.60,1066.99 L204.35,1061.46 L205.10,1057.83 L205.84,1054.65 L206.59,1052.05 L207.33,1050.15 L208.08,1048.24 L208.82,1052.73 L209.57,1057.93 L210.31,1064.12 L211.06,1070.91 L211.80,1078.13 L212.55,1086.69 L213.29,1095.19 L214.04,1105.24 L214.79,1117.56 L215.53,1128.75 L216.28,1139.32 L217.02,1152.09 L217.77,1164.56 L218.51,1174.61 L219.26,1183.97 L220.00,1193.90 L220.75,1203.43 L221.49,1210.81 L222.24,1218.88 L222.98,1226.94 L223.73,1235.01 L224.47,1241.49 L225.22,1247.54 L225.97,1253.08 L226.71,1258.34 L227.46,1263.36 L228.20,1267.48 L228.95,1271.60 L229.69,1275.43 L230.44,1278.35 L231.18,1281.27 L231.93,1284.19 L232.67,1286.67 L233.42,1288.78 L234.16,1290.69 L234.91,1292.59 L235.66,1294.50 L236.40,1296.22 L237.15,1297.62 L237.89,1298.66 L238.64,1299.69 L239.38,1300.72 L240.13,1301.75 L240.87,1302.78 L241.62,1303.78 L242.36,1304.70 L243.11,1305.35 L243.85,1305.93 L244.60,1306.52 L245.34,1307.10 L246.09,1307.68 L246.84,1308.26 L247.58,1308.84 L248.33,1309.34 L249.07,1309.80 L249.82,1310.13 L250.56,1310.38 L251.31,1310.63 L252.05,1310.88 L252.80,1311.13 L253.54,1311.38 L254.29,1311.63 L255.03,1311.88 L255.78,1312.14 L256.53,1312.39 L257.27,1312.58 L258.02,1312.75 L258.76,1312.87 L259.51,1312.93 L260.25,1312.99 L261.00,1313.05 L261.74,1313.11 L262.49,1313.16 L263.23,1313.22 L263.98,1313.28 L264.72,1313.34 L265.47,1313.40 L266.21,1313.46 L266.96,1313.51 L267.71,1313.50 L268.45,1313.47 L269.20,1313.45 L269.94,1313.42 L270.69,1313.40 L271.43,1313.38 L272.18,1313.35 L272.92,1313.33 L273.67,1313.30 L274.41,1313.28 L275.16,1313.26 L275.90,1313.23 L276.65,1313.20 L277.39,1313.17 L278.14,1313.15 L278.89,1313.13 L279.63,1313.10 L280.38,1313.06 L281.12,1313.03 L281.87,1312.99 L282.61,1312.96 L283.36,1312.92 L284.10,1312.86 L284.85,1312.79 L285.59,1312.73 L286.34,1312.66 L287.08,1312.60 L287.83,1312.53 L288.58,1312.46 L289.32,1312.40 L290.07,1312.33 L290.81,1312.26 L291.56,1312.19 L292.30,1312.12 L293.05,1312.05 L293.79,1311.98 L294.54,1311.91 L295.28,1311.84 L296.03,1311.77 L296.77,1311.70 L297.52,1311.63 L298.26,1311.56 L299.01,1311.49 L299.76,1311.42 L300.50,1311.35 L301.25,1311.25 L301.99,1311.15 L302.74,1311.05 L303.48,1310.95 L304.23,1310.85 L304.97,1310.76 L305.72,1310.66 L306.46,1310.56 L307.21,1310.46 L307.95,1310.36 L308.70,1310.26 L309.45,1310.17 L310.19,1310.07 L310.94,1309.97 L311.68,1309.87 L312.43,1309.76 L313.17,1309.65 L313.92,1309.55 L314.66,1309.44 L315.41,1309.33 L316.15,1309.23 L316.90,1309.12 L317.64,1309.01 L318.39,1308.91 L319.13,1308.80 L319.88,1308.69 L320.63,1308.59 L321.37,1308.48 L322.12,1308.37 L322.86,1308.24 L323.61,1308.12 L324.35,1307.99 L325.10,1307.85 L325.84,1307.68 L326.59,1307.51 L327.33,1307.33 L328.08,1307.16 L328.82,1306.99 L329.57,1306.82 L330.32,1306.65 L331.06,1306.48 L331.81,1306.31 L332.55,1306.14 L333.30,1305.96 L334.04,1305.76 L334.79,1305.57 L335.53,1305.38 L336.28,1305.19 L337.02,1305.00 L337.77,1304.78 L338.51,1304.57 L339.26,1304.36 L340.00,1304.15 L340.75,1303.93 L341.50,1303.72 L342.24,1303.51 L342.99,1303.29 L343.73,1303.08 L344.48,1302.87 L345.22,1302.66 L345.97,1302.45 L346.71,1302.24 L347.46,1302.03 L348.20,1301.82 L348.95,1301.61 L349.69,1301.51 L350.44,1301.45 L351.19,1301.38 L351.93,1301.28 L352.68,1301.18 L353.42,1301.08 L354.17,1300.98 L354.91,1300.69 L355.66,1300.38 L356.40,1300.06 L357.15,1299.75 L357.89,1299.44 L358.64,1299.12 L359.38,1298.81 L360.13,1298.50 L360.88,1298.19 L361.62,1297.88 L362.37,1297.57 L363.11,1297.26 L363.86,1296.95 L364.60,1296.59 L365.35,1296.23 L366.09,1295.86 L366.84,1295.50 L367.58,1295.14 L368.33,1294.77 L369.07,1294.41 L369.82,1294.02 L370.56,1293.62 L371.31,1293.22 L372.06,1292.82 L372.80,1292.43 L373.55,1292.03 L374.29,1291.57 L375.04,1291.11 L375.78,1290.64 L376.53,1290.18 L377.27,1289.71 L378.02,1289.24 L378.76,1288.75 L379.51,1288.26 L380.25,1287.77 L381.00,1287.27 L381.75,1286.78 L382.49,1286.29 L383.24,1285.80 L383.98,1285.21 L384.73,1284.58 L385.47,1283.95 L386.22,1283.33 L386.96,1282.67 L387.71,1281.99 L388.45,1281.31 L389.20,1280.63 L389.94,1279.96 L390.69,1279.28 L391.43,1278.60 L392.18,1277.92 L392.93,1277.24 L393.67,1276.47 L394.42,1275.62 L395.16,1274.77 L395.91,1273.91 L396.65,1273.05 L397.40,1272.20 L398.14,1271.34 L398.89,1270.48 L399.63,1269.63 L400.38,1268.77 L401.12,1267.85 L401.87,1266.84 L402.62,1265.64 L403.36,1264.43 L404.11,1263.22 L404.85,1262.01 L405.60,1260.81 L406.34,1259.60 L407.09,1258.36 L407.83,1257.05 L408.58,1255.73 L409.32,1254.23 L410.07,1252.53 L410.81,1250.82 L411.56,1249.12 L412.30,1247.39 L413.05,1245.53 L413.80,1243.67 L414.54,1241.81 L415.29,1239.78 L416.03,1237.42 L416.78,1235.04 L417.52,1232.62 L418.27,1230.21 L419.01,1227.79 L419.76,1225.15 L420.50,1222.23 L421.25,1219.17 L421.99,1216.03 L422.74,1212.90 L423.49,1209.61 L424.23,1206.30 L424.98,1202.99 L425.72,1199.68 L426.47,1196.23 L427.21,1192.72 L427.96,1189.15 L428.70,1185.59 L429.45,1181.84 L430.19,1178.04 L430.94,1174.25 L431.68,1170.45 L432.43,1166.63 L433.17,1162.80 L433.92,1158.97 L434.67,1155.93 L435.41,1153.01 L436.16,1149.71 L436.90,1144.49 L437.65,1138.27 L438.39,1132.19 L439.14,1126.11 L439.88,1119.91 L440.63,1113.65 L441.37,1107.26 L442.12,1100.10 L442.86,1093.03 L443.61,1086.10 L444.36,1079.16 L445.10,1071.55 L445.85,1063.48 L446.59,1052.92 L447.34,1043.95 L448.08,1036.50 L448.83,1028.34 L449.57,1019.84 L450.32,1012.39 L451.06,1004.93 L451.81,997.48 L452.55,989.91 L453.30,981.38 L454.04,973.37 L454.79,966.36 L455.54,960.50 L456.28,955.49 L457.03,951.18 L457.77,948.00 L458.52,945.04 L459.26,943.12 L460.01,941.62 L460.75,940.12 L461.50,939.83 L462.24,941.62 L462.99,943.42 L463.73,945.22 L464.48,947.96 L465.22,951.96 L465.97,956.38 L466.72,962.81 L467.46,969.84 L468.21,976.87 L468.95,983.91 L469.70,991.46 L470.44,999.92 L471.19,1008.39 L471.93,1016.85 L472.68,1025.47 L473.42,1034.27 L474.17,1043.06 L474.91,1051.91 L475.66,1060.55 L476.41,1069.47 L477.15,1078.54 L477.90,1087.60 L478.64,1094.85 L479.39,1101.79 L480.13,1109.50 L480.88,1117.15 L481.62,1124.08 L482.37,1131.02 L483.11,1137.82 L483.86,1144.51 L484.60,1151.29 L485.35,1158.18 L486.10,1164.04 L486.84,1169.60 L487.59,1174.89 L488.33,1179.20 L489.08,1183.51 L489.82,1187.58 L490.57,1191.28 L491.31,1195.50 L492.06,1200.43 L492.80,1205.36 L493.55,1209.76 L494.29,1213.83 L495.04,1217.90 L495.78,1221.97 L496.53,1225.27 L497.28,1228.54 L498.02,1231.81 L498.77,1235.09 L499.51,1237.92 L500.26,1240.48 L501.00,1243.04 L501.75,1245.59 L502.49,1248.24 L503.24,1250.87 L503.98,1253.01 L504.73,1254.99 L505.47,1256.78 L506.22,1258.58 L506.96,1260.38 L507.71,1262.18 L508.46,1263.93 L509.20,1265.35 L509.95,1266.78 L510.69,1268.20 L511.44,1269.53 L512.18,1270.76 L512.93,1272.00 L513.67,1273.24 L514.42,1274.47 L515.16,1275.71 L515.91,1276.86 L516.65,1277.96 L517.40,1279.05 L518.15,1280.15 L518.89,1281.24 L519.64,1282.33 L520.38,1283.43 L521.13,1284.48 L521.87,1285.27 L522.62,1286.06 L523.36,1286.85 L524.11,1287.64 L524.85,1288.43 L525.60,1289.22 L526.34,1290.01 L527.09,1290.80 L527.84,1291.59 L528.58,1292.30 L529.33,1293.01 L530.07,1293.59 L530.82,1294.16 L531.56,1294.72 L532.31,1295.29 L533.05,1295.86 L533.80,1296.43 L534.54,1297.00 L535.29,1297.57 L536.03,1298.07 L536.78,1298.52 L537.52,1298.97 L538.27,1299.42 L539.02,1299.87 L539.76,1300.32 L540.51,1300.67 L541.25,1301.00 L542.00,1301.34 L542.74,1301.67 L543.49,1302.01 L544.23,1302.34 L544.98,1302.68 L545.72,1303.01 L546.47,1303.28 L547.21,1303.55 L547.96,1303.82 L548.70,1304.09 L549.45,1304.36 L550.20,1304.62 L550.94,1304.89 L551.69,1305.16 L552.43,1305.43 L553.18,1305.61 L553.92,1305.80 L554.67,1305.99 L555.41,1306.18 L556.16,1306.37 L556.90,1306.55 L557.65,1306.74 L558.39,1306.89 L559.14,1307.05 L559.89,1307.20 L560.63,1307.35 L561.38,1307.51 L562.12,1307.66 L562.87,1307.82 L563.61,1307.97 L564.36,1308.13 L565.10,1308.28 L565.85,1308.44 L566.59,1308.59 L567.34,1308.75 L568.08,1308.90 L568.83,1309.06 L569.57,1309.19 L570.32,1309.31 L571.07,1309.42 L571.81,1309.51 L572.56,1309.60 L573.30,1309.69 L574.05,1309.77 L574.79,1309.86 L575.54,1309.95 L576.28,1310.03 L577.03,1310.12 L577.77,1310.21 L578.52,1310.29 L579.26,1310.38 L580.01,1310.47 L580.76,1310.56 L581.50,1310.64 L582.25,1310.73 L582.99,1310.82 L583.74,1310.90 L584.48,1310.99 L585.23,1311.08 L585.97,1311.16 L586.72,1311.24 L587.46,1311.31 L588.21,1311.37 L588.95,1311.44 L589.70,1311.51 L590.45,1311.58 L591.19,1311.64 L591.94,1311.70 L592.68,1311.75 L593.43,1311.81 L594.17,1311.87 L594.92,1311.93 L595.66,1311.99 L596.41,1312.05 L597.15,1312.11 L597.90,1312.17 L598.64,1312.22 L599.39,1312.28 L600.13,1312.34 L600.88,1312.40 L601.63,1312.45 L602.37,1312.49 L603.12,1312.52 L603.86,1312.56 L604.61,1312.60 L605.35,1312.63 L606.10,1312.67 L606.84,1312.71 L607.59,1312.75 L608.33,1312.78 L609.08,1312.82 L609.82,1312.86 L610.57,1312.90 L611.31,1312.93 L612.06,1312.97 L612.81,1313.01 L613.55,1313.04 L614.30,1313.08 L615.04,1313.12 L615.79,1313.16 L616.53,1313.19 L617.28,1313.23 L618.02,1313.27 L618.77,1313.31 L619.51,1313.34 L620.26,1313.38 L621.00,1313.42 L621.75,1313.44" stroke="#D95319" stroke-width="4.5" stroke-dasharray="4.300 4.072" stroke-dashoffset="4.533"/>
<path id="simB2" d="M100.00,1300.16 L100.75,1300.04 L101.49,1299.88 L102.24,1299.73 L102.98,1299.58 L103.73,1299.42 L104.47,1299.27 L105.22,1299.12 L105.96,1298.96 L106.71,1298.81 L107.45,1298.66 L108.20,1298.50 L108.94,1298.35 L109.69,1298.19 L110.43,1298.04 L111.18,1297.89 L111.93,1297.71 L112.67,1297.53 L113.42,1297.35 L114.16,1297.16 L114.91,1296.98 L115.65,1296.80 L116.40,1296.61 L117.14,1296.43 L117.89,1296.24 L118.63,1296.06 L119.38,1295.88 L120.12,1295.69 L120.87,1295.51 L121.62,1295.32 L122.36,1295.14 L123.11,1294.95 L123.85,1294.74 L124.60,1294.50 L125.34,1294.27 L126.09,1294.03 L126.83,1293.80 L127.58,1293.56 L128.32,1293.33 L129.07,1293.09 L129.81,1292.86 L130.56,1292.62 L131.30,1292.39 L132.05,1292.15 L132.80,1291.92 L133.54,1291.68 L134.29,1291.45 L135.03,1291.20 L135.78,1290.91 L136.52,1290.61 L137.27,1290.31 L138.01,1290.01 L138.76,1289.71 L139.50,1289.41 L140.25,1289.11 L140.99,1288.80 L141.74,1288.50 L142.49,1288.20 L143.23,1287.90 L143.98,1287.60 L144.72,1287.30 L145.47,1287.00 L146.21,1286.70 L146.96,1286.37 L147.70,1286.02 L148.45,1285.66 L149.19,1285.30 L149.94,1284.95 L150.68,1284.59 L151.43,1284.23 L152.17,1283.87 L152.92,1283.52 L153.67,1283.16 L154.41,1282.80 L155.16,1282.44 L155.90,1282.09 L156.65,1281.73 L157.39,1281.37 L158.14,1280.95 L158.88,1280.46 L159.63,1279.97 L160.37,1279.48 L161.12,1279.00 L161.86,1278.51 L162.61,1278.02 L163.36,1277.53 L164.10,1277.04 L164.85,1276.56 L165.59,1276.07 L166.34,1275.58 L167.08,1275.06 L167.83,1274.50 L168.57,1273.90 L169.32,1273.30 L170.06,1272.71 L170.81,1272.11 L171.55,1271.52 L172.30,1270.92 L173.04,1270.32 L173.79,1269.73 L174.54,1269.03 L175.28,1268.26 L176.03,1267.38 L176.77,1266.49 L177.52,1265.60 L178.26,1264.72 L179.01,1263.83 L179.75,1262.94 L180.50,1262.05 L181.24,1261.01 L181.99,1259.93 L182.73,1258.75 L183.48,1257.54 L184.23,1256.34 L184.97,1255.13 L185.72,1253.93 L186.46,1252.58 L187.21,1251.14 L187.95,1249.70 L188.70,1247.98 L189.44,1246.27 L190.19,1244.56 L190.93,1242.70 L191.68,1240.75 L192.42,1238.79 L193.17,1236.51 L193.92,1234.24 L194.66,1231.76 L195.41,1229.25 L196.15,1226.46 L196.90,1223.49 L197.64,1220.23 L198.39,1216.90 L199.13,1213.31 L199.88,1209.43 L200.62,1205.47 L201.37,1201.27 L202.11,1196.64 L202.86,1191.95 L203.60,1187.30 L204.35,1182.70 L205.10,1177.96 L205.84,1172.94 L206.59,1167.76 L207.33,1162.01 L208.08,1155.38 L208.82,1148.51 L209.57,1142.55 L210.31,1134.73 L211.06,1127.00 L211.80,1118.55 L212.55,1110.11 L213.29,1101.67 L214.04,1092.28 L214.79,1083.91 L215.53,1074.85 L216.28,1066.56 L217.02,1060.04 L217.77,1055.90 L218.51,1052.48 L219.26,1049.31 L220.00,1047.40 L220.75,1045.66 L221.49,1044.66 L222.24,1048.55 L222.98,1053.06 L223.73,1058.30 L224.47,1064.53 L225.22,1071.91 L225.97,1080.14 L226.71,1089.61 L227.46,1101.08 L228.20,1112.22 L228.95,1123.47 L229.69,1135.45 L230.44,1148.49 L231.18,1159.49 L231.93,1169.79 L232.67,1179.41 L233.42,1189.21 L234.16,1196.65 L234.91,1205.06 L235.66,1213.97 L236.40,1222.88 L237.15,1230.90 L237.89,1237.87 L238.64,1244.48 L239.38,1250.51 L240.13,1256.48 L240.87,1261.13 L241.62,1265.77 L242.36,1270.14 L243.11,1273.59 L243.85,1277.05 L244.60,1280.51 L245.34,1283.00 L246.09,1285.23 L246.84,1287.34 L247.58,1289.45 L248.33,1291.56 L249.07,1293.20 L249.82,1294.56 L250.56,1295.77 L251.31,1296.97 L252.05,1298.17 L252.80,1299.38 L253.54,1300.58 L254.29,1301.63 L255.03,1302.54 L255.78,1303.28 L256.53,1304.02 L257.27,1304.76 L258.02,1305.50 L258.76,1306.24 L259.51,1306.98 L260.25,1307.64 L261.00,1308.13 L261.74,1308.57 L262.49,1308.92 L263.23,1309.26 L263.98,1309.61 L264.72,1309.96 L265.47,1310.30 L266.21,1310.65 L266.96,1311.00 L267.71,1311.34 L268.45,1311.69 L269.20,1311.92 L269.94,1312.10 L270.69,1312.24 L271.43,1312.35 L272.18,1312.45 L272.92,1312.55 L273.67,1312.65 L274.41,1312.75 L275.16,1312.85 L275.90,1312.95 L276.65,1313.06 L277.39,1313.16 L278.14,1313.26 L278.89,1313.32 L279.63,1313.31 L280.38,1313.29 L281.12,1313.28 L281.87,1313.26 L282.61,1313.24 L283.36,1313.23 L284.10,1313.21 L284.85,1313.19 L285.59,1313.18 L286.34,1313.16 L287.08,1313.15 L287.83,1313.13 L288.58,1313.11 L289.32,1313.10 L290.07,1313.09 L290.81,1313.07 L291.56,1313.03 L292.30,1312.99 L293.05,1312.95 L293.79,1312.91 L294.54,1312.87 L295.28,1312.83 L296.03,1312.77 L296.77,1312.72 L297.52,1312.66 L298.26,1312.60 L299.01,1312.54 L299.76,1312.48 L300.50,1312.43 L301.25,1312.37 L301.99,1312.31 L302.74,1312.24 L303.48,1312.17 L304.23,1312.11 L304.97,1312.04 L305.72,1311.98 L306.46,1311.91 L307.21,1311.84 L307.95,1311.78 L308.70,1311.71 L309.45,1311.65 L310.19,1311.58 L310.94,1311.51 L311.68,1311.45 L312.43,1311.38 L313.17,1311.31 L313.92,1311.23 L314.66,1311.15 L315.41,1311.07 L316.15,1311.00 L316.90,1310.92 L317.64,1310.84 L318.39,1310.76 L319.13,1310.68 L319.88,1310.61 L320.63,1310.53 L321.37,1310.45 L322.12,1310.37 L322.86,1310.29 L323.61,1310.22 L324.35,1310.13 L325.10,1310.04 L325.84,1309.94 L326.59,1309.85 L327.33,1309.75 L328.08,1309.66 L328.82,1309.56 L329.57,1309.47 L330.32,1309.37 L331.06,1309.28 L331.81,1309.19 L332.55,1309.09 L333.30,1309.00 L334.04,1308.90 L334.79,1308.81 L335.53,1308.69 L336.28,1308.56 L337.02,1308.42 L337.77,1308.28 L338.51,1308.13 L339.26,1307.97 L340.00,1307.81 L340.75,1307.65 L341.50,1307.48 L342.24,1307.32 L342.99,1307.16 L343.73,1307.00 L344.48,1306.83 L345.22,1306.67 L345.97,1306.51 L346.71,1306.32 L347.46,1306.12 L348.20,1305.91 L348.95,1305.71 L349.69,1305.51 L350.44,1305.31 L351.19,1305.09 L351.93,1304.88 L352.68,1304.66 L353.42,1304.44 L354.17,1304.23 L354.91,1304.01 L355.66,1303.79 L356.40,1303.58 L357.15,1303.36 L357.89,1303.15 L358.64,1302.94 L359.38,1302.73 L360.13,1302.52 L360.88,1302.31 L361.62,1302.10 L362.37,1301.89 L363.11,1301.67 L363.86,1301.54 L364.60,1301.42 L365.35,1301.28 L366.09,1301.09 L366.84,1300.89 L367.58,1300.70 L368.33,1300.51 L369.07,1300.21 L369.82,1299.88 L370.56,1299.56 L371.31,1299.23 L372.06,1298.90 L372.80,1298.57 L373.55,1298.25 L374.29,1297.93 L375.04,1297.61 L375.78,1297.28 L376.53,1296.96 L377.27,1296.64 L378.02,1296.32 L378.76,1295.99 L379.51,1295.63 L380.25,1295.28 L381.00,1294.92 L381.75,1294.57 L382.49,1294.21 L383.24,1293.85 L383.98,1293.50 L384.73,1293.09 L385.47,1292.67 L386.22,1292.25 L386.96,1291.82 L387.71,1291.40 L388.45,1290.98 L389.20,1290.53 L389.94,1290.06 L390.69,1289.60 L391.43,1289.13 L392.18,1288.67 L392.93,1288.20 L393.67,1287.69 L394.42,1287.18 L395.16,1286.66 L395.91,1286.15 L396.65,1285.63 L397.40,1285.11 L398.14,1284.60 L398.89,1284.07 L399.63,1283.47 L400.38,1282.87 L401.12,1282.27 L401.87,1281.67 L402.62,1280.98 L403.36,1280.27 L404.11,1279.57 L404.85,1278.87 L405.60,1278.17 L406.34,1277.47 L407.09,1276.76 L407.83,1276.06 L408.58,1275.36 L409.32,1274.60 L410.07,1273.77 L410.81,1272.92 L411.56,1272.06 L412.30,1271.20 L413.05,1270.34 L413.80,1269.48 L414.54,1268.62 L415.29,1267.76 L416.03,1266.90 L416.78,1265.96 L417.52,1264.97 L418.27,1263.83 L419.01,1262.66 L419.76,1261.49 L420.50,1260.31 L421.25,1259.14 L421.99,1257.97 L422.74,1256.80 L423.49,1255.50 L424.23,1254.13 L424.98,1252.75 L425.72,1251.21 L426.47,1249.59 L427.21,1247.97 L427.96,1246.35 L428.70,1244.68 L429.45,1242.75 L430.19,1240.82 L430.94,1238.89 L431.68,1236.90 L432.43,1234.66 L433.17,1232.40 L433.92,1230.06 L434.67,1227.71 L435.41,1225.37 L436.16,1222.99 L436.90,1220.33 L437.65,1217.57 L438.39,1214.50 L439.14,1211.43 L439.88,1208.32 L440.63,1205.14 L441.37,1201.95 L442.12,1198.77 L442.86,1195.59 L443.61,1192.29 L444.36,1188.95 L445.10,1185.54 L445.85,1182.14 L446.59,1178.60 L447.34,1175.05 L448.08,1171.52 L448.83,1167.99 L449.57,1164.45 L450.32,1160.89 L451.06,1157.33 L451.81,1154.23 L452.55,1151.23 L453.30,1147.70 L454.04,1142.63 L454.79,1136.63 L455.54,1130.98 L456.28,1125.33 L457.03,1119.56 L457.77,1113.56 L458.52,1107.57 L459.26,1100.87 L460.01,1094.02 L460.75,1087.55 L461.50,1081.13 L462.24,1074.51 L462.99,1067.13 L463.73,1059.05 L464.48,1048.53 L465.22,1040.94 L465.97,1033.50 L466.72,1025.46 L467.46,1017.50 L468.21,1010.06 L468.95,1002.62 L469.70,995.18 L470.44,987.64 L471.19,979.53 L471.93,971.74 L472.68,965.09 L473.42,959.61 L474.17,954.79 L474.91,950.83 L475.66,947.73 L476.41,944.80 L477.15,943.06 L477.90,941.77 L478.64,940.47 L479.39,939.18 L480.13,940.61 L480.88,942.09 L481.62,943.57 L482.37,945.84 L483.11,948.92 L483.86,952.85 L484.60,958.57 L485.35,964.97 L486.10,971.36 L486.84,978.00 L487.59,985.72 L488.33,993.45 L489.08,1001.18 L489.82,1009.50 L490.57,1017.99 L491.31,1026.70 L492.06,1035.50 L492.80,1044.45 L493.55,1053.55 L494.29,1062.62 L495.04,1070.17 L495.78,1077.89 L496.53,1086.09 L497.28,1093.78 L498.02,1101.33 L498.77,1108.64 L499.51,1115.60 L500.26,1122.62 L501.00,1129.78 L501.75,1136.12 L502.49,1142.03 L503.24,1147.22 L503.98,1152.22 L504.73,1157.09 L505.47,1161.65 L506.22,1166.72 L506.96,1172.17 L507.71,1177.59 L508.46,1182.42 L509.20,1187.25 L509.95,1192.08 L510.69,1196.42 L511.44,1200.67 L512.18,1204.92 L512.93,1209.14 L513.67,1212.71 L514.42,1216.13 L515.16,1219.55 L515.91,1223.13 L516.65,1226.83 L517.40,1230.17 L518.15,1232.99 L518.89,1235.55 L519.64,1238.10 L520.38,1240.66 L521.13,1243.22 L521.87,1245.53 L522.62,1247.81 L523.36,1250.09 L524.11,1252.10 L524.85,1253.96 L525.60,1255.82 L526.34,1257.68 L527.09,1259.54 L527.84,1261.25 L528.58,1262.78 L529.33,1264.31 L530.07,1265.84 L530.82,1267.37 L531.56,1268.90 L532.31,1270.43 L533.05,1271.70 L533.80,1272.90 L534.54,1274.10 L535.29,1275.30 L536.03,1276.50 L536.78,1277.70 L537.52,1278.90 L538.27,1280.09 L539.02,1281.17 L539.76,1282.18 L540.51,1283.10 L541.25,1284.01 L542.00,1284.93 L542.74,1285.84 L543.49,1286.75 L544.23,1287.66 L544.98,1288.57 L545.72,1289.36 L546.47,1290.00 L547.21,1290.64 L547.96,1291.27 L548.70,1291.91 L549.45,1292.51 L550.20,1293.07 L550.94,1293.63 L551.69,1294.18 L552.43,1294.74 L553.18,1295.29 L553.92,1295.85 L554.67,1296.34 L555.41,1296.74 L556.16,1297.14 L556.90,1297.55 L557.65,1297.95 L558.39,1298.35 L559.14,1298.76 L559.89,1299.16 L560.63,1299.53 L561.38,1299.88 L562.12,1300.22 L562.87,1300.57 L563.61,1300.91 L564.36,1301.26 L565.10,1301.57 L565.85,1301.84 L566.59,1302.11 L567.34,1302.37 L568.08,1302.64 L568.83,1302.91 L569.57,1303.18 L570.32,1303.45 L571.07,1303.72 L571.81,1303.99 L572.56,1304.25 L573.30,1304.52 L574.05,1304.79 L574.79,1305.06 L575.54,1305.31 L576.28,1305.56 L577.03,1305.77 L577.77,1305.94 L578.52,1306.11 L579.26,1306.27 L580.01,1306.44 L580.76,1306.61 L581.50,1306.78 L582.25,1306.95 L582.99,1307.12 L583.74,1307.29 L584.48,1307.46 L585.23,1307.63 L585.97,1307.80 L586.72,1307.97 L587.46,1308.14 L588.21,1308.31 L588.95,1308.48 L589.70,1308.65 L590.45,1308.80 L591.19,1308.93 L591.94,1309.06 L592.68,1309.19 L593.43,1309.32 L594.17,1309.44 L594.92,1309.56 L595.66,1309.68 L596.41,1309.80 L597.15,1309.93 L597.90,1310.05 L598.64,1310.17 L599.39,1310.29 L600.13,1310.41 L600.88,1310.53 L601.63,1310.65 L602.37,1310.77 L603.12,1310.90 L603.86,1311.00 L604.61,1311.07 L605.35,1311.14 L606.10,1311.21 L606.84,1311.28 L607.59,1311.36 L608.33,1311.43 L609.08,1311.50 L609.82,1311.57 L610.57,1311.64 L611.31,1311.72 L612.06,1311.79 L612.81,1311.86 L613.55,1311.93 L614.30,1312.01 L615.04,1312.08 L615.79,1312.15 L616.53,1312.22 L617.28,1312.29 L618.02,1312.37 L618.77,1312.44 L619.51,1312.51 L620.26,1312.58 L621.00,1312.66 L621.75,1312.70" stroke="#EDB120" stroke-width="4.5" stroke-dasharray="4.300 4.124" stroke-dashoffset="8.059"/>
<path id="simB3" d="M100.00,1300.98 L100.75,1300.87 L101.49,1300.75 L102.24,1300.62 L102.98,1300.50 L103.73,1300.37 L104.47,1300.24 L105.22,1300.12 L105.96,1299.99 L106.71,1299.87 L107.45,1299.74 L108.20,1299.62 L108.94,1299.49 L109.69,1299.36 L110.43,1299.24 L111.18,1299.11 L111.93,1298.99 L112.67,1298.86 L113.42,1298.71 L114.16,1298.56 L114.91,1298.40 L115.65,1298.25 L116.40,1298.10 L117.14,1297.95 L117.89,1297.80 L118.63,1297.65 L119.38,1297.50 L120.12,1297.34 L120.87,1297.19 L121.62,1297.04 L122.36,1296.89 L123.11,1296.74 L123.85,1296.59 L124.60,1296.44 L125.34,1296.29 L126.09,1296.12 L126.83,1295.93 L127.58,1295.74 L128.32,1295.55 L129.07,1295.36 L129.81,1295.18 L130.56,1294.99 L131.30,1294.80 L132.05,1294.61 L132.80,1294.43 L133.54,1294.24 L134.29,1294.05 L135.03,1293.86 L135.78,1293.67 L136.52,1293.49 L137.27,1293.30 L138.01,1293.11 L138.76,1292.90 L139.50,1292.67 L140.25,1292.42 L140.99,1292.18 L141.74,1291.93 L142.49,1291.69 L143.23,1291.44 L143.98,1291.20 L144.72,1290.95 L145.47,1290.71 L146.21,1290.46 L146.96,1290.21 L147.70,1289.97 L148.45,1289.72 L149.19,1289.48 L149.94,1289.23 L150.68,1288.99 L151.43,1288.74 L152.17,1288.45 L152.92,1288.16 L153.67,1287.86 L154.41,1287.56 L155.16,1287.26 L155.90,1286.96 L156.65,1286.66 L157.39,1286.37 L158.14,1286.07 L158.88,1285.77 L159.63,1285.47 L160.37,1285.17 L161.12,1284.87 L161.86,1284.57 L162.61,1284.28 L163.36,1283.98 L164.10,1283.68 L164.85,1283.29 L165.59,1282.89 L166.34,1282.49 L167.08,1282.08 L167.83,1281.68 L168.57,1281.28 L169.32,1280.88 L170.06,1280.48 L170.81,1280.08 L171.55,1279.68 L172.30,1279.28 L173.04,1278.88 L173.79,1278.48 L174.54,1278.06 L175.28,1277.60 L176.03,1277.11 L176.77,1276.61 L177.52,1276.12 L178.26,1275.62 L179.01,1275.13 L179.75,1274.63 L180.50,1274.14 L181.24,1273.64 L181.99,1273.15 L182.73,1272.60 L183.48,1272.03 L184.23,1271.32 L184.97,1270.59 L185.72,1269.87 L186.46,1269.14 L187.21,1268.41 L187.95,1267.68 L188.70,1266.95 L189.44,1266.22 L190.19,1265.41 L190.93,1264.60 L191.68,1263.66 L192.42,1262.68 L193.17,1261.70 L193.92,1260.72 L194.66,1259.74 L195.41,1258.76 L196.15,1257.67 L196.90,1256.59 L197.64,1255.48 L198.39,1254.02 L199.13,1252.57 L199.88,1251.12 L200.62,1249.63 L201.37,1248.07 L202.11,1246.52 L202.86,1244.77 L203.60,1242.77 L204.35,1240.77 L205.10,1238.67 L205.84,1236.57 L206.59,1234.14 L207.33,1231.42 L208.08,1228.61 L208.82,1225.74 L209.57,1222.75 L210.31,1219.35 L211.06,1215.84 L211.80,1212.33 L212.55,1208.43 L213.29,1204.26 L214.04,1200.08 L214.79,1195.91 L215.53,1191.77 L216.28,1187.63 L217.02,1182.81 L217.77,1177.91 L218.51,1172.98 L219.26,1167.63 L220.00,1161.70 L220.75,1155.01 L221.49,1149.83 L222.24,1142.07 L222.98,1135.38 L223.73,1127.50 L224.47,1119.55 L225.22,1111.59 L225.97,1103.64 L226.71,1094.09 L227.46,1086.01 L228.20,1076.37 L228.95,1067.06 L229.69,1059.63 L230.44,1054.87 L231.18,1051.01 L231.93,1047.87 L232.67,1045.22 L233.42,1043.60 L234.16,1041.99 L234.91,1041.73 L235.66,1044.91 L236.40,1048.52 L237.15,1053.18 L237.89,1058.88 L238.64,1066.54 L239.38,1075.40 L240.13,1085.52 L240.87,1098.39 L241.62,1108.85 L242.36,1119.28 L243.11,1133.38 L243.85,1145.08 L244.60,1157.16 L245.34,1167.11 L246.09,1176.27 L246.84,1184.12 L247.58,1192.71 L248.33,1202.57 L249.07,1212.42 L249.82,1221.70 L250.56,1229.68 L251.31,1237.29 L252.05,1244.16 L252.80,1250.88 L253.54,1256.09 L254.29,1261.31 L255.03,1265.99 L255.78,1270.03 L256.53,1274.07 L257.27,1277.67 L258.02,1280.19 L258.76,1282.53 L259.51,1284.87 L260.25,1287.21 L261.00,1289.21 L261.74,1290.78 L262.49,1292.17 L263.23,1293.56 L263.98,1294.95 L264.72,1296.34 L265.47,1297.73 L266.21,1298.97 L266.96,1299.99 L267.71,1300.90 L268.45,1301.81 L269.20,1302.72 L269.94,1303.63 L270.69,1304.54 L271.43,1305.44 L272.18,1306.20 L272.92,1306.72 L273.67,1307.21 L274.41,1307.66 L275.16,1308.11 L275.90,1308.55 L276.65,1309.00 L277.39,1309.45 L278.14,1309.90 L278.89,1310.35 L279.63,1310.80 L280.38,1311.20 L281.12,1311.39 L281.87,1311.57 L282.61,1311.72 L283.36,1311.87 L284.10,1312.01 L284.85,1312.16 L285.59,1312.31 L286.34,1312.46 L287.08,1312.60 L287.83,1312.75 L288.58,1312.90 L289.32,1313.04 L290.07,1313.14 L290.81,1313.13 L291.56,1313.13 L292.30,1313.12 L293.05,1313.11 L293.79,1313.10 L294.54,1313.09 L295.28,1313.09 L296.03,1313.08 L296.77,1313.07 L297.52,1313.06 L298.26,1313.05 L299.01,1313.05 L299.76,1313.04 L300.50,1313.04 L301.25,1313.03 L301.99,1313.01 L302.74,1312.96 L303.48,1312.92 L304.23,1312.88 L304.97,1312.84 L305.72,1312.80 L306.46,1312.75 L307.21,1312.70 L307.95,1312.65 L308.70,1312.60 L309.45,1312.55 L310.19,1312.50 L310.94,1312.44 L311.68,1312.39 L312.43,1312.34 L313.17,1312.29 L313.92,1312.23 L314.66,1312.16 L315.41,1312.10 L316.15,1312.04 L316.90,1311.97 L317.64,1311.91 L318.39,1311.85 L319.13,1311.79 L319.88,1311.72 L320.63,1311.66 L321.37,1311.60 L322.12,1311.53 L322.86,1311.47 L323.61,1311.41 L324.35,1311.35 L325.10,1311.28 L325.84,1311.22 L326.59,1311.16 L327.33,1311.10 L328.08,1311.04 L328.82,1310.98 L329.57,1310.92 L330.32,1310.86 L331.06,1310.80 L331.81,1310.74 L332.55,1310.68 L333.30,1310.62 L334.04,1310.56 L334.79,1310.50 L335.53,1310.44 L336.28,1310.36 L337.02,1310.28 L337.77,1310.20 L338.51,1310.11 L339.26,1310.03 L340.00,1309.94 L340.75,1309.86 L341.50,1309.78 L342.24,1309.69 L342.99,1309.61 L343.73,1309.52 L344.48,1309.44 L345.22,1309.35 L345.97,1309.27 L346.71,1309.19 L347.46,1309.09 L348.20,1308.95 L348.95,1308.81 L349.69,1308.66 L350.44,1308.52 L351.19,1308.36 L351.93,1308.21 L352.68,1308.05 L353.42,1307.90 L354.17,1307.74 L354.91,1307.58 L355.66,1307.43 L356.40,1307.27 L357.15,1307.12 L357.89,1306.96 L358.64,1306.81 L359.38,1306.60 L360.13,1306.39 L360.88,1306.17 L361.62,1305.96 L362.37,1305.74 L363.11,1305.53 L363.86,1305.31 L364.60,1305.09 L365.35,1304.87 L366.09,1304.64 L366.84,1304.42 L367.58,1304.20 L368.33,1303.98 L369.07,1303.76 L369.82,1303.54 L370.56,1303.32 L371.31,1303.11 L372.06,1302.90 L372.80,1302.68 L373.55,1302.47 L374.29,1302.26 L375.04,1302.05 L375.78,1301.83 L376.53,1301.63 L377.27,1301.46 L378.02,1301.30 L378.76,1301.04 L379.51,1300.76 L380.25,1300.48 L381.00,1300.20 L381.75,1299.92 L382.49,1299.58 L383.24,1299.24 L383.98,1298.90 L384.73,1298.55 L385.47,1298.21 L386.22,1297.87 L386.96,1297.53 L387.71,1297.20 L388.45,1296.86 L389.20,1296.53 L389.94,1296.19 L390.69,1295.86 L391.43,1295.52 L392.18,1295.19 L392.93,1294.84 L393.67,1294.49 L394.42,1294.14 L395.16,1293.79 L395.91,1293.44 L396.65,1293.09 L397.40,1292.74 L398.14,1292.35 L398.89,1291.90 L399.63,1291.45 L400.38,1291.00 L401.12,1290.56 L401.87,1290.11 L402.62,1289.66 L403.36,1289.19 L404.11,1288.72 L404.85,1288.25 L405.60,1287.79 L406.34,1287.32 L407.09,1286.84 L407.83,1286.30 L408.58,1285.76 L409.32,1285.22 L410.07,1284.68 L410.81,1284.14 L411.56,1283.59 L412.30,1283.05 L413.05,1282.50 L413.80,1281.92 L414.54,1281.34 L415.29,1280.76 L416.03,1280.18 L416.78,1279.47 L417.52,1278.74 L418.27,1278.01 L419.01,1277.29 L419.76,1276.56 L420.50,1275.83 L421.25,1275.10 L421.99,1274.37 L422.74,1273.64 L423.49,1272.90 L424.23,1272.12 L424.98,1271.25 L425.72,1270.38 L426.47,1269.51 L427.21,1268.64 L427.96,1267.77 L428.70,1266.91 L429.45,1266.04 L430.19,1265.17 L430.94,1264.30 L431.68,1263.24 L432.43,1262.16 L433.17,1261.02 L433.92,1259.87 L434.67,1258.72 L435.41,1257.57 L436.16,1256.43 L436.90,1255.28 L437.65,1254.13 L438.39,1252.76 L439.14,1251.31 L439.88,1249.87 L440.63,1248.35 L441.37,1246.79 L442.12,1245.23 L442.86,1243.67 L443.61,1242.07 L444.36,1240.07 L445.10,1238.07 L445.85,1236.07 L446.59,1234.06 L447.34,1231.91 L448.08,1229.77 L448.83,1227.48 L449.57,1225.18 L450.32,1222.89 L451.06,1220.59 L451.81,1218.19 L452.55,1215.74 L453.30,1212.80 L454.04,1209.77 L454.79,1206.73 L455.54,1203.65 L456.28,1200.57 L457.03,1197.48 L457.77,1194.39 L458.52,1191.28 L459.26,1188.14 L460.01,1184.90 L460.75,1181.62 L461.50,1178.32 L462.24,1174.97 L462.99,1171.64 L463.73,1168.32 L464.48,1165.00 L465.22,1161.68 L465.97,1158.33 L466.72,1154.98 L467.46,1151.87 L468.21,1148.78 L468.95,1144.96 L469.70,1139.63 L470.44,1133.83 L471.19,1128.48 L471.93,1123.17 L472.68,1117.78 L473.42,1111.98 L474.17,1106.18 L474.91,1099.84 L475.66,1093.21 L476.41,1086.93 L477.15,1080.93 L477.90,1074.86 L478.64,1068.09 L479.39,1061.20 L480.13,1051.51 L480.88,1043.08 L481.62,1035.61 L482.37,1028.01 L483.11,1020.22 L483.86,1012.63 L484.60,1005.16 L485.35,997.68 L486.10,990.20 L486.84,982.58 L487.59,974.79 L488.33,967.23 L489.08,961.40 L489.82,956.43 L490.57,952.00 L491.31,948.61 L492.06,945.56 L492.80,942.87 L493.55,941.56 L494.29,940.44 L495.04,939.32 L495.78,938.20 L496.53,939.14 L497.28,940.23 L498.02,941.31 L498.77,943.14 L499.51,945.17 L500.26,948.79 L501.00,954.39 L501.75,959.99 L502.49,965.81 L503.24,972.62 L503.98,979.42 L504.73,986.55 L505.47,994.63 L506.22,1002.85 L506.96,1011.82 L507.71,1020.85 L508.46,1029.95 L509.20,1038.83 L509.95,1047.10 L510.69,1055.62 L511.44,1064.09 L512.18,1072.35 L512.93,1080.32 L513.67,1087.57 L514.42,1094.96 L515.16,1102.64 L515.91,1109.26 L516.65,1115.41 L517.40,1121.24 L518.15,1127.04 L518.89,1132.63 L519.64,1138.51 L520.38,1144.59 L521.13,1150.53 L521.87,1156.27 L522.62,1162.00 L523.36,1167.57 L524.11,1172.99 L524.85,1178.41 L525.60,1183.78 L526.34,1188.36 L527.09,1192.82 L527.84,1197.28 L528.58,1202.29 L529.33,1207.12 L530.07,1211.20 L530.82,1214.67 L531.56,1218.13 L532.31,1221.60 L533.05,1225.03 L533.80,1228.34 L534.54,1231.66 L535.29,1234.66 L536.03,1237.27 L536.78,1239.88 L537.52,1242.49 L538.27,1245.10 L539.02,1247.23 L539.76,1249.29 L540.51,1251.34 L541.25,1253.40 L542.00,1255.45 L542.74,1257.50 L543.49,1259.24 L544.23,1260.93 L544.98,1262.62 L545.72,1264.31 L546.47,1266.00 L547.21,1267.69 L547.96,1269.38 L548.70,1270.84 L549.45,1272.20 L550.20,1273.53 L550.94,1274.85 L551.69,1276.17 L552.43,1277.50 L553.18,1278.82 L553.92,1280.14 L554.67,1281.18 L555.41,1282.05 L556.16,1282.92 L556.90,1283.78 L557.65,1284.64 L558.39,1285.46 L559.14,1286.29 L559.89,1287.11 L560.63,1287.93 L561.38,1288.75 L562.12,1289.57 L562.87,1290.14 L563.61,1290.70 L564.36,1291.27 L565.10,1291.83 L565.85,1292.40 L566.59,1292.97 L567.34,1293.53 L568.08,1294.07 L568.83,1294.60 L569.57,1295.13 L570.32,1295.67 L571.07,1296.20 L571.81,1296.66 L572.56,1297.06 L573.30,1297.47 L574.05,1297.87 L574.79,1298.28 L575.54,1298.68 L576.28,1299.09 L577.03,1299.50 L577.77,1299.90 L578.52,1300.31 L579.26,1300.71 L580.01,1301.12 L580.76,1301.52 L581.50,1301.91 L582.25,1302.25 L582.99,1302.52 L583.74,1302.78 L584.48,1303.05 L585.23,1303.32 L585.97,1303.59 L586.72,1303.86 L587.46,1304.13 L588.21,1304.40 L588.95,1304.67 L589.70,1304.94 L590.45,1305.21 L591.19,1305.48 L591.94,1305.75 L592.68,1306.02 L593.43,1306.29 L594.17,1306.52 L594.92,1306.72 L595.66,1306.92 L596.41,1307.12 L597.15,1307.32 L597.90,1307.52 L598.64,1307.71 L599.39,1307.91 L600.13,1308.11 L600.88,1308.30 L601.63,1308.50 L602.37,1308.70 L603.12,1308.89 L603.86,1309.09 L604.61,1309.29 L605.35,1309.48 L606.10,1309.63 L606.84,1309.75 L607.59,1309.86 L608.33,1309.97 L609.08,1310.09 L609.82,1310.20 L610.57,1310.32 L611.31,1310.43 L612.06,1310.55 L612.81,1310.66 L613.55,1310.77 L614.30,1310.89 L615.04,1311.00 L615.79,1311.12 L616.53,1311.23 L617.28,1311.35 L618.02,1311.46 L618.77,1311.57 L619.51,1311.69 L620.26,1311.80 L621.00,1311.92 L621.75,1311.99" stroke="#7E2F8E" stroke-width="4.5" stroke-dasharray="4.300 4.078" stroke-dashoffset="7.690"/>
<path id="simB4" d="M100.14,1302.01 C102.40,1301.70 109.09,1300.85 113.69,1300.15 C118.28,1299.45 123.03,1298.67 127.70,1297.81 C132.37,1296.95 137.04,1296.10 141.72,1295.01 C146.39,1293.92 151.06,1292.67 155.73,1291.27 C160.40,1289.87 165.46,1288.23 169.74,1286.60 C174.03,1284.96 177.92,1283.17 181.42,1281.46 C184.93,1279.75 187.85,1278.27 190.77,1276.32 C193.69,1274.37 196.41,1272.12 198.94,1269.78 C201.47,1267.45 203.89,1265.03 205.95,1262.31 C208.01,1259.58 209.76,1256.47 211.32,1253.43 C212.88,1250.39 214.05,1247.59 215.29,1244.09 C216.54,1240.58 217.74,1236.30 218.80,1232.41 C219.85,1228.52 220.74,1224.62 221.60,1220.73 C222.45,1216.84 223.16,1212.94 223.93,1209.05 C224.71,1205.16 225.57,1201.27 226.27,1197.37 C226.97,1193.48 227.52,1189.59 228.14,1185.69 C228.76,1181.80 229.44,1178.16 230.01,1174.01 C230.57,1169.87 231.26,1162.75 231.53,1160.80 C231.81,1158.86 231.47,1163.70 231.64,1162.34 C231.81,1160.97 232.23,1155.61 232.55,1152.63 C232.88,1149.65 233.27,1147.18 233.58,1144.45 C233.88,1141.73 234.12,1139.00 234.39,1136.28 C234.67,1133.55 234.94,1130.83 235.21,1128.10 C235.48,1125.38 235.76,1122.65 236.03,1119.93 C236.30,1117.20 236.61,1114.48 236.85,1111.75 C237.09,1109.03 237.22,1106.30 237.46,1103.58 C237.70,1100.85 238.04,1098.13 238.28,1095.40 C238.52,1092.68 238.69,1089.95 238.89,1087.23 C239.09,1084.50 239.30,1081.78 239.50,1079.05 C239.71,1076.33 239.88,1073.60 240.12,1070.88 C240.36,1068.15 240.59,1065.26 240.93,1062.70 C241.27,1060.15 241.68,1057.86 242.16,1055.55 C242.64,1053.23 243.11,1050.74 243.80,1048.80 C244.48,1046.86 245.50,1043.63 246.25,1043.90 C247.00,1044.17 247.75,1047.99 248.29,1050.44 C248.84,1052.89 249.18,1055.89 249.52,1058.61 C249.86,1061.34 250.10,1064.06 250.34,1066.79 C250.57,1069.51 250.74,1072.24 250.95,1074.96 C251.15,1077.69 251.39,1080.41 251.56,1083.14 C251.73,1085.86 251.80,1088.59 251.97,1091.31 C252.14,1094.04 252.38,1096.76 252.58,1099.49 C252.79,1102.21 252.99,1104.94 253.20,1107.66 C253.40,1110.39 253.64,1113.11 253.81,1115.84 C253.98,1118.56 254.08,1121.29 254.22,1124.01 C254.36,1126.74 254.46,1129.46 254.63,1132.19 C254.80,1134.91 255.07,1137.64 255.24,1140.36 C255.41,1143.09 255.48,1145.82 255.65,1148.54 C255.82,1151.27 256.06,1153.99 256.26,1156.72 C256.47,1159.44 256.50,1160.84 256.88,1164.89 C257.25,1168.94 258.03,1175.61 258.50,1181.02 C258.96,1186.44 259.27,1191.92 259.66,1197.37 C260.05,1202.82 260.40,1208.27 260.83,1213.72 C261.26,1219.17 261.73,1224.62 262.23,1230.07 C262.74,1235.52 263.28,1241.36 263.87,1246.42 C264.45,1251.48 265.04,1255.77 265.74,1260.44 C266.44,1265.11 267.10,1270.17 268.07,1274.45 C269.05,1278.73 270.14,1282.43 271.58,1286.13 C273.02,1289.83 274.89,1293.53 276.72,1296.64 C278.55,1299.76 280.22,1302.48 282.55,1304.82 C284.89,1307.15 287.81,1309.29 290.73,1310.66 C293.65,1312.02 296.57,1312.60 300.07,1312.99 C303.58,1313.38 307.86,1313.11 311.75,1312.99 C315.64,1312.88 319.54,1312.56 323.43,1312.29 C327.32,1312.02 331.22,1311.63 335.11,1311.36 C339.00,1311.09 342.90,1310.97 346.79,1310.66 C350.68,1310.35 354.57,1310.07 358.47,1309.49 C362.36,1308.91 366.25,1308.13 370.15,1307.15 C374.04,1306.18 378.52,1304.62 381.82,1303.65 C385.13,1302.68 387.24,1302.36 390.00,1301.31 C392.76,1300.26 395.05,1298.90 398.39,1297.34 C401.74,1295.79 406.57,1293.84 410.07,1291.97 C413.58,1290.10 416.30,1288.27 419.42,1286.13 C422.53,1283.99 425.84,1281.65 428.76,1279.12 C431.68,1276.59 434.40,1273.67 436.93,1270.95 C439.46,1268.22 441.61,1265.89 443.94,1262.77 C446.28,1259.66 448.81,1255.96 450.95,1252.26 C453.09,1248.56 455.04,1244.67 456.79,1240.58 C458.54,1236.50 459.90,1232.21 461.46,1227.74 C463.02,1223.26 464.77,1218.39 466.13,1213.72 C467.49,1209.05 468.47,1204.38 469.64,1199.71 C470.80,1195.04 472.05,1190.17 473.14,1185.69 C474.23,1181.22 475.20,1176.93 476.18,1172.85 C477.15,1168.76 477.93,1165.57 478.98,1161.17 C480.03,1156.76 481.59,1151.22 482.48,1146.42 C483.38,1141.63 483.69,1137.08 484.35,1132.41 C485.01,1127.74 485.79,1123.07 486.45,1118.39 C487.11,1113.72 487.74,1109.05 488.32,1104.38 C488.91,1099.71 489.37,1095.04 489.96,1090.36 C490.54,1085.69 491.24,1081.02 491.82,1076.35 C492.41,1071.68 493.04,1066.59 493.46,1062.34 C493.88,1058.08 493.98,1055.06 494.36,1050.80 C494.75,1046.55 495.30,1041.46 495.77,1036.79 C496.23,1032.12 496.70,1027.45 497.17,1022.77 C497.64,1018.10 498.10,1013.43 498.57,1008.76 C499.04,1004.09 499.50,999.42 499.97,994.74 C500.44,990.07 500.91,985.40 501.37,980.73 C501.84,976.06 502.23,971.00 502.77,966.72 C503.32,962.43 503.94,958.54 504.64,955.04 C505.34,951.53 506.04,947.95 506.98,945.69 C507.91,943.44 509.08,941.68 510.25,941.49 C511.42,941.29 513.01,941.88 513.99,944.53 C514.96,947.17 515.43,952.90 516.09,957.37 C516.75,961.85 517.41,966.72 517.96,971.39 C518.50,976.06 518.93,980.73 519.36,985.40 C519.79,990.07 520.14,994.74 520.53,999.42 C520.91,1004.09 521.30,1008.76 521.69,1013.43 C522.08,1018.10 522.47,1022.77 522.86,1027.45 C523.25,1032.12 523.64,1036.79 524.03,1041.46 C524.42,1046.13 524.77,1050.80 525.20,1055.47 C525.63,1060.15 526.21,1065.40 526.60,1069.49 C526.99,1073.58 525.85,1064.53 527.53,1080.00 C529.22,1095.47 534.87,1146.28 536.71,1162.34 C538.55,1178.39 537.99,1171.68 538.58,1176.35 C539.16,1181.02 539.55,1185.69 540.21,1190.36 C540.87,1195.04 541.77,1199.71 542.55,1204.38 C543.33,1209.05 543.99,1213.72 544.88,1218.39 C545.78,1223.07 546.75,1227.74 547.92,1232.41 C549.09,1237.08 550.45,1241.75 551.89,1246.42 C553.33,1251.09 554.89,1255.96 556.56,1260.44 C558.24,1264.91 559.87,1269.39 561.93,1273.28 C564.00,1277.18 566.41,1280.68 568.94,1283.80 C571.47,1286.91 574.20,1289.44 577.12,1291.97 C580.04,1294.50 583.15,1296.91 586.46,1298.98 C589.77,1301.04 593.47,1302.79 596.97,1304.35 C600.47,1305.91 603.39,1307.15 607.48,1308.32 C611.57,1309.49 619.16,1310.85 621.50,1311.36" stroke="#77AC30" stroke-width="4.5" stroke-dasharray="4.300 4.133" stroke-dashoffset="3.887"/>
<path d="M100.20,1289.18 C100.53,1289.24 102.26,1289.96 102.99,1289.76 C103.73,1289.55 105.67,1287.84 106.48,1287.43 C107.29,1287.03 109.15,1286.41 109.97,1286.27 C110.78,1286.14 112.64,1286.14 113.46,1286.27 C114.27,1286.41 116.21,1287.03 116.94,1287.43 C117.67,1287.84 119.05,1289.99 119.73,1289.76 C120.41,1289.52 122.05,1286.76 122.75,1285.40 C123.46,1284.05 125.10,1279.40 125.78,1278.15 C126.45,1276.89 127.83,1275.24 128.57,1274.66 C129.30,1274.09 131.24,1273.58 132.05,1273.21 C132.87,1272.84 134.81,1272.35 135.54,1271.47 C136.27,1270.59 137.65,1266.58 138.33,1265.66 C139.01,1264.75 140.59,1264.27 141.35,1263.63 C142.11,1262.99 144.03,1260.82 144.84,1260.15 C145.65,1259.47 147.38,1258.16 148.33,1257.82 C149.28,1257.49 151.89,1257.38 152.98,1257.24 C154.06,1257.11 156.54,1256.53 157.63,1256.66 C158.71,1256.80 161.38,1258.78 162.28,1258.40 C163.17,1258.03 164.49,1254.89 165.30,1253.47 C166.11,1252.05 168.52,1248.08 169.25,1246.21 C169.98,1244.35 171.03,1240.21 171.58,1237.50 C172.12,1234.79 173.22,1225.63 173.90,1222.99 C174.58,1220.35 176.57,1216.79 177.39,1214.86 C178.20,1212.93 179.93,1208.81 180.88,1206.44 C181.83,1204.07 184.58,1197.18 185.53,1194.54 C186.47,1191.90 188.20,1185.83 189.01,1183.80 C189.83,1181.77 191.69,1178.81 192.50,1177.12 C193.31,1175.43 195.17,1170.98 195.99,1169.28 C196.80,1167.59 198.74,1163.72 199.47,1162.61 C200.21,1161.49 201.18,1159.94 202.26,1159.70 C203.35,1159.47 207.47,1159.96 208.77,1160.57 C210.08,1161.18 212.47,1164.08 213.42,1164.93 C214.37,1165.78 215.96,1166.88 216.91,1167.83 C217.86,1168.78 220.61,1171.19 221.56,1173.06 C222.51,1174.92 224.23,1181.53 225.05,1183.80 C225.86,1186.07 227.72,1190.47 228.54,1192.51 C229.35,1194.54 231.21,1199.18 232.02,1201.22 C232.84,1203.25 234.75,1207.55 235.51,1209.92 C236.27,1212.30 237.85,1219.00 238.53,1221.54 C239.21,1224.08 240.45,1229.50 241.32,1231.70 C242.19,1233.90 245.27,1239.05 245.97,1240.41 C246.67,1241.76 246.88,1241.79 247.31,1243.31 C247.74,1244.83 249.09,1251.27 249.63,1253.47 C250.18,1255.67 251.28,1259.98 251.96,1262.18 C252.64,1264.38 254.63,1270.31 255.45,1272.34 C256.26,1274.37 257.98,1278.07 258.93,1279.60 C259.88,1281.12 262.50,1283.71 263.58,1285.40 C264.67,1287.10 267.15,1292.42 268.23,1294.11 C269.32,1295.81 271.80,1298.80 272.88,1299.92 C273.97,1301.04 276.45,1302.84 277.53,1303.69 C278.62,1304.54 281.10,1306.43 282.18,1307.18 C283.27,1307.92 285.75,1309.57 286.83,1310.08 C287.92,1310.59 290.26,1311.22 291.48,1311.53 C292.70,1311.83 295.94,1312.52 297.29,1312.69 C298.65,1312.86 301.75,1313.01 303.10,1312.98 C304.46,1312.95 307.56,1312.74 308.92,1312.40 C310.27,1312.06 313.24,1310.62 314.73,1310.08 C316.22,1309.54 320.08,1308.20 321.70,1307.76 C323.33,1307.32 327.05,1306.64 328.68,1306.30 C330.31,1305.97 334.43,1305.09 335.65,1304.85 C336.87,1304.62 338.33,1304.51 339.14,1304.27 C339.95,1304.03 341.81,1302.92 342.63,1302.82 C343.44,1302.72 345.30,1303.16 346.11,1303.40 C346.93,1303.64 348.71,1304.65 349.60,1304.85 C350.50,1305.06 352.97,1305.55 353.79,1305.14 C354.60,1304.74 355.71,1302.15 356.58,1301.37 C357.44,1300.59 360.14,1299.04 361.23,1298.47 C362.31,1297.89 364.79,1296.98 365.88,1296.43 C366.96,1295.89 369.30,1294.43 370.53,1293.82 C371.75,1293.21 375.12,1292.02 376.34,1291.21 C377.56,1290.40 379.90,1287.87 380.99,1286.85 C382.07,1285.84 384.69,1283.24 385.64,1282.50 C386.59,1281.75 388.31,1280.74 389.12,1280.47 C389.94,1280.20 391.80,1280.45 392.61,1280.18 C393.43,1279.91 395.28,1278.89 396.10,1278.15 C396.91,1277.40 398.77,1274.98 399.59,1273.79 C400.40,1272.61 402.26,1269.51 403.07,1267.98 C403.89,1266.46 405.76,1262.08 406.56,1260.73 C407.36,1259.37 409.11,1257.32 409.90,1256.37 C410.70,1255.42 412.58,1253.55 413.39,1252.60 C414.20,1251.65 416.06,1249.23 416.88,1248.24 C417.69,1247.26 419.55,1244.93 420.36,1244.18 C421.18,1243.44 423.04,1242.03 423.85,1241.86 C424.67,1241.69 426.66,1243.07 427.34,1242.73 C428.02,1242.39 429.12,1240.07 429.66,1238.95 C430.21,1237.84 431.45,1235.01 431.99,1233.15 C432.53,1231.29 433.77,1225.53 434.31,1222.99 C434.86,1220.45 436.10,1213.75 436.64,1211.38 C437.18,1209.01 438.42,1204.29 438.96,1202.67 C439.51,1201.04 440.66,1198.80 441.29,1197.44 C441.91,1196.09 443.63,1192.99 444.31,1191.06 C444.99,1189.12 446.45,1183.44 447.10,1180.90 C447.75,1178.35 449.21,1171.82 449.89,1169.28 C450.57,1166.74 452.15,1161.32 452.91,1159.12 C453.67,1156.92 455.67,1152.62 456.40,1150.41 C457.13,1148.21 458.59,1142.45 459.19,1140.25 C459.79,1138.05 461.13,1133.66 461.51,1131.54 C461.90,1129.43 462.12,1123.89 462.50,1122.11 C462.89,1120.33 464.15,1117.66 464.83,1116.30 C465.51,1114.95 467.55,1111.68 468.31,1110.50 C469.07,1109.31 470.58,1106.48 471.34,1106.14 C472.10,1105.80 474.04,1107.66 474.82,1107.59 C475.61,1107.53 477.26,1105.73 478.08,1105.56 C478.89,1105.39 481.04,1105.74 481.80,1106.14 C482.56,1106.55 483.99,1108.27 484.59,1109.05 C485.18,1109.83 486.24,1112.07 486.91,1112.82 C487.59,1113.57 489.59,1114.35 490.40,1115.43 C491.21,1116.52 493.07,1121.26 493.89,1122.11 C494.70,1122.96 496.56,1122.35 497.37,1122.69 C498.19,1123.03 500.05,1124.34 500.86,1125.01 C501.68,1125.69 503.67,1127.82 504.35,1128.50 C505.03,1129.17 506.05,1129.70 506.67,1130.82 C507.30,1131.94 509.02,1136.38 509.70,1138.08 C510.37,1139.77 511.89,1143.64 512.49,1145.33 C513.08,1147.03 514.27,1150.39 514.81,1152.59 C515.35,1154.79 516.59,1161.66 517.14,1164.20 C517.68,1166.74 518.86,1171.99 519.46,1174.36 C520.06,1176.73 521.57,1182.15 522.25,1184.52 C522.93,1186.89 524.51,1192.31 525.27,1194.68 C526.03,1197.05 527.95,1202.81 528.76,1204.84 C529.57,1206.88 531.30,1210.41 532.25,1212.10 C533.20,1213.80 535.88,1217.48 536.90,1219.36 C537.91,1221.24 539.81,1226.27 540.97,1228.21 C542.12,1230.16 545.42,1234.12 546.78,1236.05 C548.13,1237.98 551.37,1242.90 552.59,1244.76 C553.81,1246.62 556.29,1250.16 557.24,1252.02 C558.19,1253.88 559.97,1258.70 560.73,1260.73 C561.49,1262.76 563.13,1267.74 563.75,1269.44 C564.37,1271.13 565.48,1274.06 566.07,1275.24 C566.67,1276.43 568.13,1278.99 568.86,1279.60 C569.60,1280.21 571.40,1280.03 572.35,1280.47 C573.30,1280.91 575.92,1282.46 577.00,1283.37 C578.09,1284.28 580.57,1287.22 581.65,1288.31 C582.74,1289.39 585.22,1291.88 586.30,1292.66 C587.39,1293.44 589.87,1294.64 590.95,1294.98 C592.04,1295.32 594.51,1295.50 595.60,1295.56 C596.68,1295.63 599.30,1295.33 600.25,1295.56 C601.20,1295.80 602.79,1297.49 603.74,1297.60 C604.69,1297.70 607.30,1296.60 608.39,1296.43 C609.47,1296.26 611.95,1296.08 613.04,1296.14 C614.12,1296.21 616.74,1296.68 617.69,1297.01 C618.64,1297.35 620.50,1298.61 621.17,1299.05 C621.85,1299.49 623.23,1300.59 623.50,1300.79" stroke="#000" stroke-width="3.9"/>
</g>
<g font-family="Liberation Sans, sans-serif" font-weight="bold" font-size="26.5" fill="#262626">
<g transform="translate(0,1350.30) scale(1,1.085) translate(0,-1350.30)"><path transform="translate(84.70,1350.30) scale(26.500,-26.500)" d="M0.398,0 L0.248,0 L0.248,0.505 C0.200,0.460 0.142,0.426 0.074,0.403 L0.074,0.527 C0.110,0.538 0.149,0.560 0.191,0.592 C0.233,0.624 0.262,0.660 0.278,0.703 L0.398,0.703 Z" fill="#262626" stroke="none"/><path transform="translate(98.64,1350.30) scale(26.500,-26.500)" d="M0.398,0 L0.248,0 L0.248,0.505 C0.200,0.460 0.142,0.426 0.074,0.403 L0.074,0.527 C0.110,0.538 0.149,0.560 0.191,0.592 C0.233,0.624 0.262,0.660 0.278,0.703 L0.398,0.703 Z" fill="#262626" stroke="none"/></g>
<g transform="translate(0,1350.30) scale(1,1.085) translate(0,-1350.30)"><path transform="translate(172.22,1350.30) scale(26.500,-26.500)" d="M0.398,0 L0.248,0 L0.248,0.505 C0.200,0.460 0.142,0.426 0.074,0.403 L0.074,0.527 C0.110,0.538 0.149,0.560 0.191,0.592 C0.233,0.624 0.262,0.660 0.278,0.703 L0.398,0.703 Z" fill="#262626" stroke="none"/><text x="186.96" y="1350.30">2</text></g>
<g transform="translate(0,1350.30) scale(1,1.085) translate(0,-1350.30)"><path transform="translate(259.18,1350.30) scale(26.500,-26.500)" d="M0.398,0 L0.248,0 L0.248,0.505 C0.200,0.460 0.142,0.426 0.074,0.403 L0.074,0.527 C0.110,0.538 0.149,0.560 0.191,0.592 C0.233,0.624 0.262,0.660 0.278,0.703 L0.398,0.703 Z" fill="#262626" stroke="none"/><text x="273.92" y="1350.30">3</text></g>
<g transform="translate(0,1350.30) scale(1,1.085) translate(0,-1350.30)"><path transform="translate(346.14,1350.30) scale(26.500,-26.500)" d="M0.398,0 L0.248,0 L0.248,0.505 C0.200,0.460 0.142,0.426 0.074,0.403 L0.074,0.527 C0.110,0.538 0.149,0.560 0.191,0.592 C0.233,0.624 0.262,0.660 0.278,0.703 L0.398,0.703 Z" fill="#262626" stroke="none"/><text x="360.88" y="1350.30">4</text></g>
<g transform="translate(0,1350.30) scale(1,1.085) translate(0,-1350.30)"><path transform="translate(433.10,1350.30) scale(26.500,-26.500)" d="M0.398,0 L0.248,0 L0.248,0.505 C0.200,0.460 0.142,0.426 0.074,0.403 L0.074,0.527 C0.110,0.538 0.149,0.560 0.191,0.592 C0.233,0.624 0.262,0.660 0.278,0.703 L0.398,0.703 Z" fill="#262626" stroke="none"/><text x="447.83" y="1350.30">5</text></g>
<g transform="translate(0,1350.30) scale(1,1.085) translate(0,-1350.30)"><path transform="translate(520.06,1350.30) scale(26.500,-26.500)" d="M0.398,0 L0.248,0 L0.248,0.505 C0.200,0.460 0.142,0.426 0.074,0.403 L0.074,0.527 C0.110,0.538 0.149,0.560 0.191,0.592 C0.233,0.624 0.262,0.660 0.278,0.703 L0.398,0.703 Z" fill="#262626" stroke="none"/><text x="534.79" y="1350.30">6</text></g>
<g transform="translate(0,1350.30) scale(1,1.085) translate(0,-1350.30)"><path transform="translate(607.02,1350.30) scale(26.500,-26.500)" d="M0.398,0 L0.248,0 L0.248,0.505 C0.200,0.460 0.142,0.426 0.074,0.403 L0.074,0.527 C0.110,0.538 0.149,0.560 0.191,0.592 C0.233,0.624 0.262,0.660 0.278,0.703 L0.398,0.703 Z" fill="#262626" stroke="none"/><text x="621.75" y="1350.30">7</text></g>
<g transform="translate(0,1323.90) scale(1,1.085) translate(0,-1323.90)"><text x="73.77" y="1323.90">0</text></g>
<g transform="translate(0,1258.79) scale(1,1.085) translate(0,-1258.79)"><text x="51.66" y="1258.79">0</text><text x="66.40" y="1258.79">.</text><path transform="translate(73.77,1258.79) scale(26.500,-26.500)" d="M0.398,0 L0.248,0 L0.248,0.505 C0.200,0.460 0.142,0.426 0.074,0.403 L0.074,0.527 C0.110,0.538 0.149,0.560 0.191,0.592 C0.233,0.624 0.262,0.660 0.278,0.703 L0.398,0.703 Z" fill="#262626" stroke="none"/></g>
<g transform="translate(0,1193.68) scale(1,1.085) translate(0,-1193.68)"><text x="51.66" y="1193.68">0</text><text x="66.40" y="1193.68">.</text><text x="73.77" y="1193.68">2</text></g>
<g transform="translate(0,1128.56) scale(1,1.085) translate(0,-1128.56)"><text x="51.66" y="1128.56">0</text><text x="66.40" y="1128.56">.</text><text x="73.77" y="1128.56">3</text></g>
<g transform="translate(0,1063.45) scale(1,1.085) translate(0,-1063.45)"><text x="51.66" y="1063.45">0</text><text x="66.40" y="1063.45">.</text><text x="73.77" y="1063.45">4</text></g>
<g transform="translate(0,998.34) scale(1,1.085) translate(0,-998.34)"><text x="51.66" y="998.34">0</text><text x="66.40" y="998.34">.</text><text x="73.77" y="998.34">5</text></g>
<g transform="translate(0,933.23) scale(1,1.085) translate(0,-933.23)"><text x="51.66" y="933.23">0</text><text x="66.40" y="933.23">.</text><text x="73.77" y="933.23">6</text></g>
<g transform="translate(0,868.11) scale(1,1.085) translate(0,-868.11)"><text x="51.66" y="868.11">0</text><text x="66.40" y="868.11">.</text><text x="73.77" y="868.11">7</text></g>
<g transform="translate(0,803.00) scale(1,1.085) translate(0,-803.00)"><text x="51.66" y="803.00">0</text><text x="66.40" y="803.00">.</text><text x="73.77" y="803.00">8</text></g>
</g>
<g font-family="Liberation Sans, sans-serif" font-weight="bold" font-size="29.85" fill="#262626">
<text transform="translate(360.57,1386.70) scale(1,1.075)" text-anchor="middle">Frequency [GHz]</text>
<text transform="translate(36.60,1054.85) rotate(-90) scale(1.004,1.05)" text-anchor="middle">Transmission</text>
</g>
<text x="0.1" y="826.0" font-family="Liberation Sans, sans-serif" font-weight="bold" font-size="31.3" fill="#000">(b)</text>
<rect x="120.6" y="811.9" width="216.5" height="178" fill="#fff" stroke="#000" stroke-width="2.9"/>
<g font-family="Liberation Sans, sans-serif" font-size="21.7" fill="#000">
<path d="M128.2,829.40 H205.5" stroke="#0072BD" stroke-width="4.1" stroke-dasharray="4 4.06" fill="none"/>
<path transform="translate(218.60,836.20) scale(21.7,-23.2)" d="M0.373,0 L0.285,0 L0.285,0.560 C0.264,0.540 0.236,0.520 0.202,0.500 C0.168,0.480 0.137,0.465 0.110,0.455 L0.110,0.540 C0.159,0.563 0.202,0.591 0.239,0.624 C0.276,0.657 0.302,0.689 0.317,0.720 L0.373,0.720 Z" fill="#000"/>
<text transform="translate(230.67,836.20) scale(1,1.07)">.0 µm</text>
<path d="M128.2,857.80 H205.5" stroke="#D95319" stroke-width="4.1" stroke-dasharray="4 4.06" fill="none"/>
<path transform="translate(218.60,864.20) scale(21.7,-23.2)" d="M0.373,0 L0.285,0 L0.285,0.560 C0.264,0.540 0.236,0.520 0.202,0.500 C0.168,0.480 0.137,0.465 0.110,0.455 L0.110,0.540 C0.159,0.563 0.202,0.591 0.239,0.624 C0.276,0.657 0.302,0.689 0.317,0.720 L0.373,0.720 Z" fill="#000"/>
<text transform="translate(230.67,864.20) scale(1,1.07)">.5 µm</text>
<path d="M128.2,886.20 H205.5" stroke="#EDB120" stroke-width="4.1" stroke-dasharray="4 4.06" fill="none"/>
<text transform="translate(218.00,892.60) scale(1,1.07)">2.0 µm</text>
<path d="M128.2,914.60 H205.5" stroke="#7E2F8E" stroke-width="4.1" stroke-dasharray="4 4.06" fill="none"/>
<text transform="translate(218.00,920.40) scale(1,1.07)">2.5 µm</text>
<path d="M128.2,943.30 H205.5" stroke="#77AC30" stroke-width="4.1" stroke-dasharray="4 4.06" fill="none"/>
<text transform="translate(218.00,949.30) scale(1,1.07)">3.0 µm</text>
<path d="M246.5,863.7 H253.8" stroke="#9cc4e8" stroke-width="0.8" fill="none"/>
<path d="M128.2,972.4 H209.3" stroke="#000" stroke-width="4.4" fill="none"/>
<text transform="translate(218.4,979.1) scale(1,1.07)">Experiment</text>
</g>
<g font-family="Liberation Sans, sans-serif" font-size="21.7" fill="#f00">
<text transform="translate(161.2,1017.1) scale(1,1.07)">Air gap size</text>
<text transform="translate(417.1,909.7) scale(1,1.07)">Air gap size</text>
</g>
<path d="M162.00,1033.10 H266.00" stroke="#f00" stroke-width="1.8" fill="none"/>
<path d="M282.00,1033.10 L265.00,1023.30 L265.00,1042.90 Z" fill="#f00"/>
<path d="M414.90,924.90 H519.00" stroke="#f00" stroke-width="1.8" fill="none"/>
<path d="M535.00,924.90 L518.00,915.10 L518.00,934.70 Z" fill="#f00"/>
<g stroke-linejoin="round">
<polygon points="184.90,234.20 280.90,295.90 280.90,308.00 184.90,243.90" fill="#c6c6c6"/>
<polygon points="280.90,295.90 408.10,249.80 408.10,259.00 280.90,308.00" fill="#cfcfcf"/>
<polygon points="184.90,234.20 193.50,239.70 193.50,249.50 184.90,243.90" fill="#e4e4e4"/>
<polygon points="184.90,204.30 280.90,266.10 280.90,295.90 184.90,234.20" fill="#6a6a6a"/>
<polygon points="280.90,266.10 408.10,220.00 408.10,249.80 280.90,295.90" fill="#737373"/>
<polygon points="184.90,226.50 212.70,224.00 221.90,230.70 197.40,239.90 184.90,234.20" fill="#727272"/>
<path d="M186.1,233.2 L212.7,224 M197.4,239.9 L221.9,230.7 M360,223.5 L408,239.5 M372,233 L408,247" stroke="#4e4e4e" stroke-width="0.7" fill="none"/>
<polygon points="184.90,187.60 312.30,139.30 408.10,203.80 408.10,220.00 280.90,266.10 184.90,204.30" fill="#e3e3e3"/>
<polygon points="184.90,200.10 312.30,154.20 408.10,216.40 408.10,220.00 280.90,266.10 184.90,204.30" fill="#b9a063"/>
<polygon points="184.90,200.10 193.20,197.00 280.90,254.80 399.40,210.60 408.10,216.40 408.10,220.00 280.90,266.10 184.90,204.30" fill="#bc9a50"/>
<polyline points="283.40,181.20 302.30,192.20 339.60,178.30 310.40,160.80 262.90,179.00 299.40,204.60" fill="none" stroke="#e6e5e1" stroke-width="3.3" stroke-linejoin="miter"/>
<polyline points="210.40,202.50 245.80,189.40 268.60,203.60 237.90,213.90 223.00,204.80" fill="none" stroke="#e6e5e1" stroke-width="3.3" stroke-linejoin="miter"/>
<polyline points="252.80,231.90 294.90,216.70 319.10,232.60 286.10,247.70 267.70,236.70" fill="none" stroke="#e6e5e1" stroke-width="3.3" stroke-linejoin="miter"/>
<polyline points="334.30,212.70 347.40,221.50 377.40,211.30 357.70,197.00 318.20,212.00 343.80,228.80" fill="none" stroke="#e6e5e1" stroke-width="3.3" stroke-linejoin="miter"/>
<path d="M244.4,234.6 L283.8,259.4" stroke="#f6f6f6" stroke-width="3.0"/>
<path d="M344.5,229.6 L349.5,231.6" stroke="#fdfdfd" stroke-width="3"/>
<polyline points="184.90,191.20 312.30,143.20 408.10,207.40" fill="none" stroke="#8a8a8a" stroke-width="0.7"/>
<polygon points="184.90,187.60 280.90,251.40 280.90,254.80 184.90,191.20" fill="#b3aa8d"/>
<polygon points="280.90,251.40 408.10,203.80 408.10,207.40 280.90,254.80" fill="#b3aa8d"/>
<polygon points="184.90,187.60 193.00,193.00 193.20,197.00 184.90,191.20" fill="#d6d6d2"/>
<polygon points="408.10,203.80 399.40,207.10 399.40,210.60 408.10,207.40" fill="#d6d6d2"/>
<polyline points="184.90,191.20 280.90,254.80 408.10,207.40" fill="none" stroke="#4a4a4a" stroke-width="0.8"/>
<polygon points="184.90,187.60 312.30,139.30 408.10,203.80 280.90,251.40" fill="none" stroke="#4a4a4a" stroke-width="0.9"/>
<polyline points="184.90,203.30 280.90,265.10 408.10,219.00" fill="none" stroke="#2a2a2a" stroke-width="0.6"/>
<polyline points="184.90,204.30 280.90,266.10 408.10,220.00" fill="none" stroke="#f21616" stroke-width="1.8"/>
<path d="M184.9,187.6 V243.9 M280.9,251.4 V308 M408.1,203.8 V259" stroke="#5a5a5a" stroke-width="0.8" fill="none"/>
<polyline points="184.90,243.90 280.90,308.00 408.10,259.00" fill="none" stroke="#9a9a9a" stroke-width="0.6"/>
<polyline points="184.90,234.20 280.90,295.90 408.10,249.80" fill="none" stroke="#4e4e4e" stroke-width="0.6"/>
</g>
<polyline points="407.50,203.90 461.30,127.00 600.40,127.00" fill="none" stroke="#000" stroke-width="1.3"/>
<polyline points="407.50,207.40 461.30,163.70 600.40,163.70" fill="none" stroke="#000" stroke-width="1.3"/>
<polyline points="407.50,217.90 461.30,203.60 600.40,203.60" fill="none" stroke="#000" stroke-width="1.3"/>
<polyline points="407.50,221.40 461.30,241.20 600.40,241.20" fill="none" stroke="#f00" stroke-width="1.3"/>
<polyline points="407.50,250.20 461.30,278.30 600.40,278.30" fill="none" stroke="#000" stroke-width="1.3"/>
<polyline points="407.50,258.90 461.30,312.80 600.40,312.80" fill="none" stroke="#000" stroke-width="1.3"/>
<g font-family="Liberation Sans, sans-serif" font-weight="bold" font-size="16.3" fill="#000" text-anchor="middle">
<text x="525.10" y="151.10" textLength="84.8" lengthAdjust="spacingAndGlyphs">Vacuum bag</text>
<text x="524.80" y="189.50" textLength="95.3" lengthAdjust="spacingAndGlyphs">PCB substrate</text>
<text x="537.70" y="228.10" textLength="111.4" lengthAdjust="spacingAndGlyphs">Copper (etched)</text>
<text x="524.80" y="265.20" textLength="44.9" lengthAdjust="spacingAndGlyphs">Silicon</text>
<text x="525.10" y="301.10" textLength="84.8" lengthAdjust="spacingAndGlyphs">Vacuum bag</text>
</g>
<text transform="translate(217.4,163.0) rotate(-19.8)" font-family="Liberation Sans, sans-serif" font-weight="bold" font-size="15.7" fill="#000" textLength="57.5" lengthAdjust="spacingAndGlyphs">Unit cell</text>
<text transform="translate(197.6,280.6) rotate(33.3)" font-family="Liberation Sans, sans-serif" font-weight="bold" font-size="15.7" fill="#000" textLength="52" lengthAdjust="spacingAndGlyphs">3.4 mm</text>
<path d="M188,255.3 L271,308.9" stroke="#000" stroke-width="1.9" fill="none"/>
<polygon points="182.2,251.6 193.9,253.0 188.3,261.6" fill="#000"/>
<polygon points="276.9,312.7 265.6,311.4 271.2,303.0" fill="#000"/>
</svg>
</body></html>
